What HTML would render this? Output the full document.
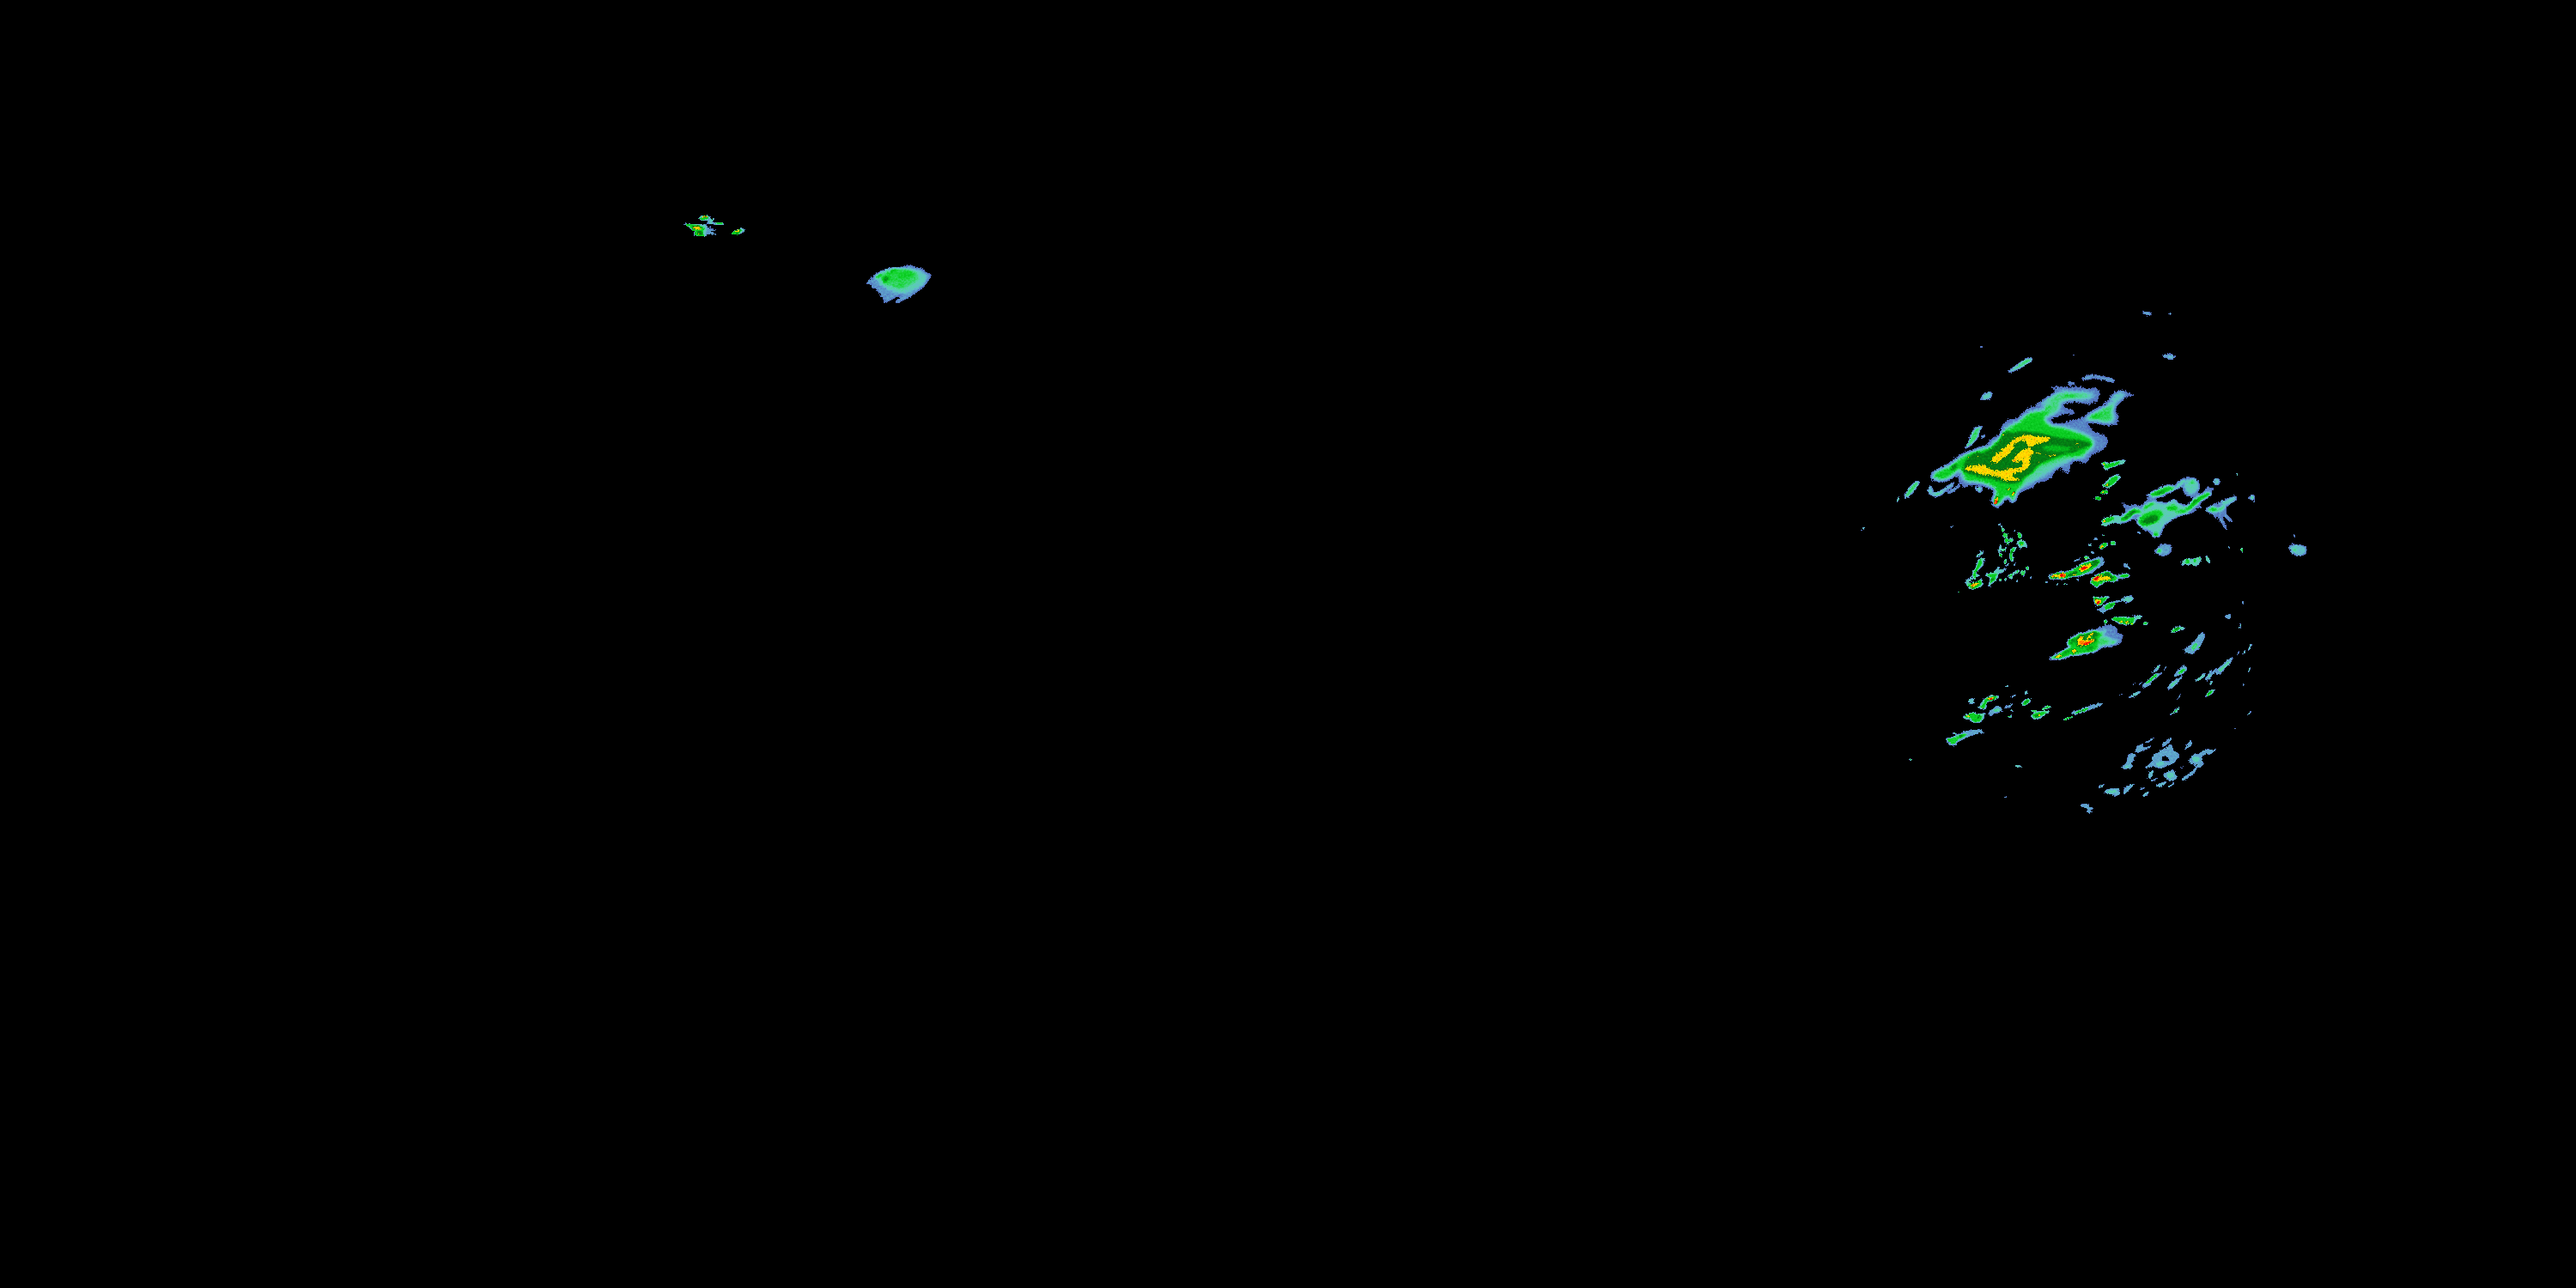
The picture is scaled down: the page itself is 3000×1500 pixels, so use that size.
<!DOCTYPE html>
<html lang="en"><head><meta charset="utf-8"><title>Radar reflectivity mosaic</title>
<style>
html,body{margin:0;padding:0;background:#000;width:3000px;height:1500px;overflow:hidden;font-family:"Liberation Sans",sans-serif;}
svg{display:block;position:absolute;left:0;top:0;}
</style></head><body>
<svg width="3000" height="1500" viewBox="0 0 3000 1500">
<defs>
<filter id="blo" x="0" y="0" width="3000" height="1500" filterUnits="userSpaceOnUse" color-interpolation-filters="sRGB"><feGaussianBlur stdDeviation="2.2"/></filter>
<filter id="bhi" x="0" y="0" width="3000" height="1500" filterUnits="userSpaceOnUse" color-interpolation-filters="sRGB"><feGaussianBlur stdDeviation="1.0"/></filter>
<filter id="bti" x="0" y="0" width="3000" height="1500" filterUnits="userSpaceOnUse" color-interpolation-filters="sRGB"><feGaussianBlur stdDeviation="0.7"/></filter>
<filter id="cmap" x="-20" y="-20" width="3040" height="1540" filterUnits="userSpaceOnUse" color-interpolation-filters="sRGB">
<feTurbulence type="fractalNoise" baseFrequency="0.45" numOctaves="2" seed="7" result="t"/>
<feColorMatrix in="t" type="matrix" values="1 0 0 0 0  1 0 0 0 0  1 0 0 0 0  0 0 0 0 1" result="n"/>
<feDisplacementMap in="SourceGraphic" in2="t" scale="3" xChannelSelector="R" yChannelSelector="G" result="d0"/>
<feColorMatrix in="d0" type="matrix" values="1 0 0 0 0  0 1 0 0 0  0 0 1 0 0  0 0 0 0 1" result="d"/>
<feComposite in="d" in2="n" operator="arithmetic" k1="0" k2="1" k3="0.16" k4="-0.08" result="c"/>
<feComponentTransfer in="c">
<feFuncR type="table" tableValues="0 0 0 0 0 0 0 0 0 0 0 0 0 0 0 0 0 0 0 0 0 0 0.314 0.315 0.316 0.317 0.319 0.32 0.321 0.322 0.323 0.325 0.326 0.327 0.328 0.329 0.332 0.334 0.336 0.339 0.341 0.344 0.346 0.348 0.351 0.353 0.355 0.358 0.36 0.362 0.365 0.366 0.367 0.368 0.369 0.37 0.371 0.372 0.373 0.374 0.375 0.375 0.376 0.377 0.378 0.379 0.38 0.381 0.382 0.383 0.384 0.383 0.381 0.38 0.378 0.376 0.375 0.373 0.372 0.37 0.369 0.367 0.365 0.364 0.362 0.361 0.359 0.358 0.356 0.355 0.353 0.348 0.343 0.338 0.333 0.327 0.322 0.317 0.312 0.307 0.302 0.297 0.292 0.287 0.282 0.276 0.271 0.266 0.261 0.256 0.251 0.242 0.234 0.225 0.216 0.208 0.199 0.191 0.182 0.173 0.165 0.156 0.147 0.139 0.13 0.122 0.113 0.104 0.096 0.087 0.078 0.075 0.071 0.067 0.064 0.06 0.056 0.053 0.049 0.045 0.042 0.038 0.035 0.031 0.027 0.024 0.023 0.023 0.023 0.023 0.023 0.022 0.022 0.022 0.022 0.022 0.021 0.021 0.021 0.021 0.021 0.02 0.02 0.02 0.02 0.02 0.019 0.019 0.019 0.019 0.019 0.018 0.018 0.018 0.018 0.018 0.017 0.017 0.017 0.017 0.017 0.016 0.016 0.016 0.016 0.016 0.015 0.015 0.015 0.014 0.014 0.014 0.013 0.013 0.013 0.012 0.012 0.012 0.261 0.51 0.608 0.706 0.804 0.902 1 1 1 1 1 1 1 1 1 1 1 1 1 1 1 1 1 1 1 1 1 1 1 1 1 1 1 1 1 1 1 1 1 0.998 0.996 0.993 0.991 0.989 0.987 0.985 0.983 0.98 0.963 0.945 0.927 0.91 0.892 0.875 0.857 0.839 0.822 0.804"/>
<feFuncG type="table" tableValues="0 0 0 0 0 0 0 0 0 0 0 0 0 0 0 0 0 0 0 0 0 0 0.408 0.413 0.417 0.422 0.427 0.432 0.437 0.442 0.446 0.451 0.456 0.461 0.466 0.471 0.479 0.487 0.496 0.504 0.512 0.521 0.529 0.538 0.546 0.554 0.563 0.571 0.579 0.588 0.596 0.603 0.609 0.616 0.623 0.629 0.636 0.643 0.649 0.656 0.663 0.669 0.676 0.683 0.689 0.696 0.703 0.709 0.716 0.723 0.729 0.734 0.738 0.742 0.747 0.751 0.755 0.76 0.764 0.768 0.773 0.777 0.781 0.785 0.79 0.794 0.798 0.803 0.807 0.811 0.816 0.817 0.818 0.82 0.821 0.823 0.824 0.825 0.827 0.828 0.829 0.831 0.832 0.834 0.835 0.836 0.838 0.839 0.84 0.842 0.843 0.843 0.842 0.842 0.842 0.841 0.841 0.84 0.84 0.84 0.839 0.839 0.838 0.838 0.838 0.837 0.837 0.836 0.836 0.836 0.835 0.832 0.828 0.825 0.822 0.818 0.815 0.812 0.808 0.805 0.801 0.798 0.795 0.791 0.788 0.784 0.776 0.769 0.761 0.753 0.745 0.737 0.729 0.722 0.714 0.706 0.698 0.69 0.682 0.675 0.667 0.659 0.651 0.643 0.635 0.627 0.62 0.613 0.606 0.599 0.592 0.585 0.578 0.571 0.564 0.557 0.55 0.543 0.536 0.529 0.522 0.515 0.507 0.5 0.493 0.486 0.481 0.476 0.471 0.465 0.46 0.455 0.45 0.444 0.439 0.434 0.429 0.424 0.525 0.627 0.684 0.74 0.797 0.853 0.91 0.9 0.889 0.879 0.869 0.859 0.849 0.838 0.828 0.818 0.808 0.79 0.771 0.753 0.735 0.716 0.698 0.68 0.661 0.643 0.625 0.607 0.588 0.561 0.533 0.506 0.478 0.451 0.424 0.396 0.369 0.341 0.314 0.279 0.244 0.209 0.174 0.139 0.105 0.07 0.035 0 0 0 0 0 0 0 0 0 0 0"/>
<feFuncB type="table" tableValues="0 0 0 0 0 0 0 0 0 0 0 0 0 0 0 0 0 0 0 0 0 0 0.729 0.732 0.734 0.736 0.738 0.74 0.742 0.744 0.746 0.748 0.751 0.753 0.755 0.757 0.759 0.762 0.765 0.767 0.77 0.773 0.775 0.778 0.78 0.783 0.786 0.788 0.791 0.793 0.796 0.796 0.797 0.797 0.798 0.798 0.798 0.799 0.799 0.8 0.8 0.8 0.801 0.801 0.802 0.802 0.802 0.803 0.803 0.804 0.804 0.798 0.793 0.787 0.781 0.775 0.77 0.764 0.758 0.753 0.747 0.741 0.736 0.73 0.724 0.719 0.713 0.707 0.702 0.696 0.69 0.68 0.67 0.66 0.649 0.639 0.629 0.619 0.609 0.598 0.588 0.578 0.568 0.558 0.547 0.537 0.527 0.517 0.507 0.496 0.486 0.471 0.456 0.44 0.425 0.41 0.395 0.379 0.364 0.349 0.333 0.318 0.303 0.287 0.272 0.257 0.242 0.226 0.211 0.196 0.18 0.176 0.171 0.166 0.162 0.157 0.152 0.147 0.143 0.138 0.133 0.129 0.124 0.119 0.115 0.11 0.109 0.108 0.107 0.107 0.106 0.105 0.104 0.104 0.103 0.102 0.101 0.1 0.1 0.099 0.098 0.097 0.096 0.096 0.095 0.094 0.093 0.093 0.092 0.091 0.09 0.089 0.089 0.088 0.087 0.086 0.085 0.085 0.084 0.083 0.082 0.082 0.081 0.08 0.079 0.078 0.078 0.077 0.076 0.076 0.075 0.075 0.074 0.073 0.073 0.072 0.071 0.071 0.055 0.039 0.031 0.024 0.016 0.008 0 0 0 0 0 0 0 0 0 0 0 0 0 0 0 0 0 0 0 0 0 0 0 0 0 0 0 0 0 0 0 0 0 0 0 0 0 0 0 0 0 0 0 0 0 0 0 0 0 0 0 0"/>
<feFuncA type="linear" slope="0" intercept="1"/>
</feComponentTransfer>
</filter>
</defs>
<rect width="3000" height="1500" fill="#000"/>
<g filter="url(#cmap)">
<rect x="-20" y="-20" width="3040" height="1540" fill="#000"/>
<g filter="url(#blo)">
<polygon fill="rgb(42,42,42)" points="2247.5,557.6 2251.0,549.5 2260.3,544.8 2268.4,541.3 2278.9,533.2 2285.9,528.5 2299.9,523.8 2310.4,519.2 2316.2,519.2 2315.0,513.4 2322.0,509.3 2329.0,508.1 2330.2,500.6 2332.5,492.4 2339.5,488.3 2348.8,487.7 2353.4,481.9 2359.3,478.4 2359.3,474.9 2370.9,473.2 2373.2,468.5 2381.4,465.6 2387.2,461.0 2393.0,457.5 2393.0,452.8 2383.7,451.1 2390.7,449.3 2402.4,450.5 2421.0,450.5 2433.8,452.2 2443.1,451.6 2446.6,456.3 2444.3,463.3 2443.1,467.9 2435.0,467.9 2438.5,472.0 2428.0,470.3 2416.3,467.9 2408.2,469.1 2402.4,470.9 2403.5,474.9 2409.3,476.1 2418.7,479.6 2415.2,483.1 2404.7,482.5 2397.7,485.4 2390.7,486.6 2387.2,490.1 2393.0,494.2 2401.2,493.0 2411.7,489.5 2425.6,486.6 2435.0,479.6 2444.3,474.9 2451.3,470.3 2458.3,462.1 2462.9,457.5 2469.9,453.4 2478.0,456.3 2487.4,459.8 2486.2,461.5 2475.7,462.1 2472.2,466.8 2466.4,470.3 2462.9,478.4 2467.6,483.1 2466.4,491.2 2467.6,494.7 2458.3,495.9 2448.9,494.7 2439.6,492.4 2430.3,492.4 2432.6,497.1 2437.3,500.6 2439.6,503.5 2447.8,505.2 2453.6,508.7 2455.9,514.5 2452.4,521.5 2446.6,526.2 2438.5,528.5 2433.8,533.2 2430.3,539.0 2426.8,540.7 2421.0,536.7 2415.2,536.7 2411.7,541.3 2410.5,550.6 2405.8,552.4 2402.4,546.0 2397.7,545.4 2391.9,549.5 2390.7,556.5 2381.4,559.9 2372.1,562.3 2368.6,566.9 2358.1,571.6 2349.9,575.1 2347.6,582.1 2345.3,586.7 2341.8,585.6 2339.5,579.7 2334.8,580.9 2330.2,586.7 2327.8,590.0 2322.0,590.0 2319.7,584.4 2320.8,577.4 2323.2,571.6 2318.5,568.1 2311.5,566.9 2309.2,565.2 2299.9,564.6 2292.9,565.8 2287.1,569.3 2284.7,564.6 2280.1,561.1 2281.2,554.1 2276.6,555.3 2268.4,559.9 2260.3,561.1 2253.3,559.9"/>
<polygon fill="rgb(140,140,140)" points="2249.8,554.1 2254.5,549.5 2262.6,546.0 2270.8,542.5 2281.2,534.3 2288.2,529.7 2301.0,525.0 2311.5,521.5 2318.5,520.4 2323.2,514.5 2329.0,509.9 2331.3,505.2 2334.8,500.6 2341.8,495.9 2351.1,491.2 2355.8,486.6 2361.6,481.9 2367.4,479.6 2376.7,478.4 2386.0,477.3 2390.7,472.6 2388.4,467.9 2381.4,469.1 2376.7,471.4 2380.2,467.4 2389.5,462.1 2395.4,458.6 2404.7,456.3 2416.3,457.5 2428.0,457.5 2438.5,459.8 2432.6,463.3 2421.0,465.0 2409.3,465.0 2398.9,467.9 2398.9,473.8 2395.4,479.6 2388.4,483.1 2380.2,486.6 2382.6,491.2 2389.5,495.9 2400.0,497.1 2411.7,500.6 2425.6,505.2 2435.0,509.9 2438.5,515.7 2436.1,521.5 2430.3,526.2 2425.6,532.0 2417.5,533.2 2409.3,534.3 2402.4,536.7 2396.5,539.0 2387.2,540.2 2380.2,544.8 2373.2,549.5 2369.7,555.3 2365.1,561.1 2356.9,565.8 2351.1,569.3 2347.6,575.1 2346.5,582.1 2343.0,584.4 2340.6,577.4 2334.8,578.6 2331.3,584.4 2326.7,589.1 2322.0,587.9 2322.0,579.7 2325.5,572.8 2320.8,566.9 2311.5,563.4 2302.2,561.1 2292.9,561.1 2287.1,557.6 2284.7,550.6 2282.4,546.0 2276.6,550.6 2271.9,555.3 2263.8,558.8 2255.6,558.8"/>
<polygon fill="rgb(140,140,140)" points="2428.0,488.9 2435.0,483.1 2445.4,477.3 2453.6,473.8 2459.4,469.1 2461.7,473.8 2459.4,480.8 2461.7,486.6 2458.3,491.2 2448.9,491.2 2439.6,488.9"/>
<polygon fill="rgb(85,85,85)" points="2458.3,463.3 2462.9,458.6 2471.1,456.3 2474.6,459.8 2467.6,466.8 2461.7,472.6"/>
<polygon fill="rgb(93,93,93)" points="2367.8,549.4 2374.8,543.1 2385.3,538.9 2395.8,534.7 2406.3,531.9 2413.2,533.3 2406.3,538.9 2395.8,543.1 2388.8,548.0 2381.8,552.9 2374.8,557.1 2367.8,561.3 2360.8,564.1 2353.9,565.5 2357.3,558.5"/>
<polygon fill="rgb(110,110,110)" points="2380.2,467.4 2389.5,462.1 2395.4,458.6 2404.7,456.3 2416.3,457.5 2428.0,457.5 2438.5,459.8 2432.6,463.3 2421.0,465.0 2409.3,465.0 2398.9,467.9 2398.9,473.8 2395.4,479.6 2388.4,483.1 2381.4,478.4 2386.0,477.3 2390.7,472.6 2388.4,467.9 2381.4,469.1"/>
<ellipse fill="rgb(140,140,140)" cx="2411.7" cy="461.0" rx="8.2" ry="1.9" transform="rotate(-5 2411.7 461.0)"/>
<ellipse fill="rgb(140,140,140)" cx="2384.9" cy="473.8" rx="4.7" ry="2.6" transform="rotate(-30 2384.9 473.8)"/>
<polygon fill="rgb(120,120,120)" points="2428.0,488.9 2435.0,483.1 2445.4,477.3 2453.6,473.8 2459.4,469.1 2461.7,473.8 2459.4,480.8 2461.7,486.6 2458.3,491.2 2448.9,491.2 2439.6,488.9"/>
<ellipse fill="rgb(145,145,145)" cx="2439.6" cy="485.2" rx="6.4" ry="2.6" transform="rotate(-20 2439.6 485.2)"/>
</g>
<g filter="url(#bhi)">
<polygon fill="rgb(185,185,185)" points="2286.1,543.1 2288.2,537.5 2293.1,531.9 2298.0,527.7 2303.5,526.3 2309.1,527.7 2314.7,524.9 2320.3,520.7 2325.9,516.6 2330.1,511.0 2331.5,504.7 2337.1,502.6 2344.1,504.0 2351.1,502.6 2358.0,501.9 2366.4,503.3 2374.8,504.0 2383.2,506.1 2391.6,508.2 2400.0,510.3 2408.4,511.0 2416.7,511.7 2425.1,513.1 2433.5,515.2 2436.3,518.0 2430.7,520.7 2423.7,522.8 2416.7,526.3 2409.8,527.7 2402.8,529.1 2395.8,531.9 2388.8,534.7 2381.8,537.5 2376.2,540.3 2370.6,544.5 2367.8,549.4 2362.2,552.9 2356.6,556.4 2353.9,560.6 2348.3,562.7 2339.9,563.4 2332.9,562.0 2325.9,559.9 2318.9,557.8 2311.9,557.1 2304.9,555.7 2298.0,552.9 2291.0,551.5 2286.8,548.7"/>
<polygon fill="rgb(153,153,153)" points="2379.0,520.0 2388.8,518.0 2399.3,519.3 2409.8,520.7 2413.2,523.5 2406.3,525.6 2395.8,526.3 2385.3,524.9 2379.0,522.8"/>
<polygon fill="rgb(185,185,185)" points="2271.4,545.9 2274.2,541.7 2278.4,540.3 2279.8,543.1 2277.0,546.6 2273.5,548.0"/>
<polygon fill="rgb(210,210,210)" points="2318.9,535.4 2323.1,530.5 2328.0,526.3 2332.9,522.8 2337.1,519.3 2340.6,515.2 2345.5,511.0 2352.5,508.2 2359.4,505.7 2366.4,506.8 2372.0,508.5 2379.0,508.9 2387.4,508.5 2388.8,511.7 2383.2,514.5 2376.2,516.6 2369.9,518.6 2364.3,521.4 2360.8,519.3 2360.1,515.2 2355.9,513.1 2350.4,514.5 2345.5,517.3 2345.5,521.4 2342.7,524.9 2339.9,529.1 2335.7,531.9 2331.5,534.7 2327.3,538.2 2323.8,540.3 2320.3,538.9"/>
<polygon fill="rgb(210,210,210)" points="2344.1,534.7 2346.9,531.9 2349.7,527.7 2353.9,524.9 2358.0,522.8 2362.2,520.7 2367.8,524.9 2370.6,526.3 2367.8,529.1 2364.3,531.9 2364.3,537.5 2363.6,542.4 2360.1,545.9 2355.9,548.7 2351.1,550.8 2346.9,549.4 2349.7,545.9 2353.9,543.1 2355.9,538.9 2353.9,536.1 2349.0,538.2 2344.8,538.9"/>
<polygon fill="rgb(210,210,210)" points="2287.5,545.2 2292.4,543.1 2299.3,542.4 2306.3,541.0 2313.3,541.7 2316.1,545.2 2323.1,548.0 2330.1,548.0 2337.1,545.9 2344.1,544.5 2348.3,545.2 2351.1,548.0 2346.9,551.5 2342.7,554.3 2346.9,557.1 2352.5,557.1 2353.9,559.2 2346.9,560.6 2339.9,559.9 2334.3,559.2 2330.1,557.1 2325.9,555.7 2320.3,554.3 2314.7,552.9 2309.1,552.9 2303.5,551.5 2299.3,549.4 2293.8,548.7 2288.9,548.0"/>
<polygon fill="rgb(50,50,50)" points="1008.9,329.9 1012.8,324.8 1021.7,317.9 1032.2,313.0 1036.5,311.3 1043.9,311.3 1048.1,311.6 1058.2,309.1 1062.5,309.1 1066.0,311.6 1068.3,311.1 1072.2,312.0 1077.3,315.5 1081.1,319.4 1083.9,318.1 1084.0,323.3 1080.7,327.2 1077.6,332.4 1069.9,338.6 1062.1,344.8 1054.3,349.5 1048.1,351.0 1046.6,353.0 1042.3,353.0 1041.9,351.4 1051.6,341.7 1041.9,347.2 1034.9,351.0 1030.7,353.0 1028.0,349.5 1029.9,347.2 1025.6,344.8 1020.2,336.3 1016.3,335.9 1014.0,332.4 1016.3,330.5 1010.1,331.6"/>
<polygon fill="rgb(85,85,85)" points="1018.6,324.1 1023.3,318.6 1033.0,313.6 1044.6,312.0 1058.2,312.8 1071.8,315.5 1079.6,321.7 1075.7,331.1 1066.0,336.9 1054.3,341.9 1042.7,340.8 1033.0,336.9 1025.2,331.1"/>
<polygon fill="rgb(115,115,115)" points="1024.8,323.3 1031.1,316.3 1042.7,313.2 1058.2,313.6 1067.9,317.5 1069.9,325.2 1062.1,331.1 1050.5,336.9 1040.8,334.9 1031.1,331.1"/>
<polygon fill="rgb(125,125,125)" points="1027.2,324.8 1034.9,317.5 1041.9,313.2 1058.2,314.4 1066.0,318.6 1062.1,324.8 1048.5,328.0 1038.8,327.2 1028.7,330.7"/>
<polygon fill="rgb(142,142,142)" points="1026.4,325.6 1029.5,321.7 1034.9,320.2 1037.3,323.3 1034.9,327.2 1029.5,330.7"/>
<polygon fill="rgb(140,140,140)" points="1034.9,317.5 1038.8,313.6 1044.6,312.8 1045.8,314.4 1041.1,316.7 1037.3,319.4"/>
<polygon fill="rgb(134,134,134)" points="1046.6,320.2 1054.3,315.5 1060.6,315.5 1065.2,318.6 1060.6,323.3 1053.6,324.8 1048.5,324.8"/>
<polygon fill="rgb(140,140,140)" points="1019.0,323.3 1025.2,318.2 1028.0,319.4 1021.7,324.1"/>
<polygon fill="rgb(123,123,123)" points="1040.8,332.2 1048.5,328.0 1056.3,328.7 1050.5,334.9 1042.7,334.9"/>
<polygon fill="rgb(180,180,180)" points="1028.3,324.8 1033.0,322.1 1034.9,324.8 1031.1,328.3"/>
<polygon fill="rgb(170,170,170)" points="1037.3,316.3 1041.1,313.2 1042.3,314.0 1038.4,317.1"/>
<polygon fill="rgb(170,170,170)" points="1022.5,322.1 1026.4,319.0 1027.6,319.8 1023.7,322.9"/>
<polygon fill="rgb(115,115,115)" points="2337.4,433.7 2346.7,427.3 2354.9,420.9 2360.7,417.4 2367.1,417.4 2365.4,420.5 2358.4,424.9 2350.2,429.6 2340.9,433.3"/>
<polygon fill="rgb(85,85,85)" points="2307.1,463.4 2310.6,458.7 2318.2,456.1 2319.9,459.9 2317.6,463.9 2311.8,465.7 2308.3,465.5"/>
<polygon fill="rgb(115,115,115)" points="2287.9,522.2 2293.2,513.4 2296.7,504.1 2301.3,498.3 2309.5,496.0 2304.8,501.8 2303.6,508.8 2299.0,514.6 2293.2,519.8"/>
<polygon fill="rgb(85,85,85)" points="2306.2,510.5 2308.3,507.6 2311.8,506.2 2311.2,508.8 2308.3,510.5"/>
<polygon fill="rgb(54,54,54)" points="2422.4,441.2 2430.6,437.2 2437.6,436.0 2446.9,438.3 2458.5,440.1 2463.2,442.4 2462.0,445.7 2453.9,444.2 2444.6,441.2 2437.6,440.1 2432.9,442.4 2427.1,442.6"/>
<polygon fill="rgb(52,52,52)" points="2406.1,447.6 2409.6,444.2 2416.6,445.3 2417.2,447.6 2409.6,448.0"/>
<ellipse fill="rgb(85,85,85)" cx="2307.4" cy="403.7" rx="2.6" ry="0.7" transform="rotate(-10 2307.4 403.7)"/>
<ellipse fill="rgb(52,52,52)" cx="2415.4" cy="413.4" rx="2.3" ry="0.6" transform="rotate(0 2415.4 413.4)"/>
<polygon fill="rgb(85,85,85)" points="2494.8,363.3 2501.2,363.3 2505.0,364.2 2505.0,366.8 2500.1,366.2 2496.0,364.7"/>
<ellipse fill="rgb(85,85,85)" cx="2527.1" cy="365.3" rx="1.0" ry="0.7" transform="rotate(0 2527.1 365.3)"/>
<polygon fill="rgb(75,75,75)" points="2521.0,412.2 2524.5,413.9 2527.4,412.2 2530.4,413.9 2535.0,415.1 2531.5,416.3 2529.8,419.0 2525.7,418.0 2522.8,415.7 2518.7,417.4 2519.9,415.1"/>
<polygon fill="rgb(42,42,42)" points="2499.8,577.3 2503.5,574.8 2507.2,571.7 2512.2,569.5 2515.9,566.7 2520.9,565.5 2525.8,564.3 2533.3,564.9 2535.8,561.8 2538.3,558.7 2542.6,557.1 2547.0,555.6 2551.3,556.5 2555.7,556.2 2558.8,558.7 2561.2,562.4 2562.5,566.1 2561.9,569.8 2559.4,572.3 2560.6,575.4 2556.9,578.5 2553.2,580.4 2550.7,577.3 2547.0,578.5 2544.5,576.1 2542.6,572.3 2541.4,568.6 2540.1,566.1 2537.0,568.0 2533.3,569.8 2529.6,572.3 2525.8,574.2 2522.1,576.1 2523.4,578.5 2519.6,577.9 2515.9,578.5 2512.2,580.4 2509.7,582.3 2511.6,585.4 2508.4,587.9 2503.5,589.7 2500.4,588.5 2497.3,584.8 2501.0,582.3 2500.4,579.8"/>
<polygon fill="rgb(42,42,42)" points="2542.6,591.0 2547.0,588.5 2550.1,586.0 2553.2,582.3 2556.9,578.5 2560.6,576.1 2564.3,574.2 2566.8,571.1 2569.3,568.6 2571.2,566.1 2573.7,568.6 2578.0,567.4 2579.3,569.2 2575.5,572.3 2576.1,576.7 2573.0,578.5 2568.1,581.0 2564.3,583.5 2561.9,585.4 2562.5,588.5 2565.6,591.0 2561.9,592.2 2558.1,591.0 2553.2,594.1 2547.0,596.6 2543.2,594.7"/>
<polygon fill="rgb(42,42,42)" points="2471.2,585.4 2474.3,586.0 2477.4,588.5 2481.7,588.5 2486.1,586.6 2489.8,588.5 2494.8,587.9 2497.3,584.8 2501.0,582.3 2507.2,581.6 2510.9,582.3 2511.6,585.4 2514.7,584.8 2518.4,583.5 2520.9,586.0 2525.2,584.8 2528.3,582.3 2531.4,580.4 2534.5,582.9 2537.6,585.4 2540.7,587.2 2543.9,587.9 2547.0,588.5 2553.2,594.1 2559.4,594.1 2565.6,595.3 2568.7,594.1 2571.2,591.0 2574.9,588.5 2578.0,587.2 2581.1,586.0 2585.5,584.1 2590.4,582.3 2596.6,579.8 2602.2,577.3 2605.3,580.4 2604.7,582.9 2599.8,585.4 2595.4,587.9 2592.9,591.0 2592.3,594.7 2593.5,598.4 2596.6,602.8 2600.4,607.7 2600.4,609.6 2596.6,606.5 2591.7,602.1 2588.0,599.7 2589.2,604.0 2592.3,612.1 2594.8,618.3 2594.2,619.5 2590.4,613.9 2586.7,607.7 2583.6,604.0 2581.7,600.9 2580.5,602.1 2581.7,607.1 2578.0,600.9 2574.9,597.8 2570.6,595.9 2565.6,595.3 2560.6,594.7 2556.9,595.9 2551.9,597.8 2547.0,599.0 2542.0,599.7 2537.6,601.5 2533.3,604.0 2528.3,607.1 2524.6,609.6 2520.9,612.1 2519.0,616.4 2517.8,620.8 2515.9,625.1 2506.0,625.1 2503.5,619.5 2498.5,618.9 2494.8,615.8 2491.7,612.7 2487.3,609.6 2488.6,607.1 2484.8,604.0 2483.6,605.2 2480.5,607.1 2474.9,609.0 2469.9,609.6 2465.0,608.4 2460.0,607.1 2457.5,604.6 2460.0,600.9 2463.7,600.9 2468.7,600.9 2472.4,598.4 2475.5,595.9 2474.3,591.6 2472.4,588.5"/>
<polygon fill="rgb(85,85,85)" points="2497.3,588.5 2503.5,585.4 2509.7,583.5 2515.9,586.0 2522.1,587.2 2528.3,583.5 2532.0,581.6 2537.0,586.0 2542.0,588.5 2547.0,589.7 2551.9,594.7 2547.0,597.8 2540.7,599.0 2534.5,601.5 2528.3,605.2 2522.1,609.6 2519.0,613.3 2515.9,619.5 2508.4,620.8 2503.5,616.4 2497.3,615.2 2492.3,611.5 2489.8,607.1 2492.3,600.9 2494.8,594.7"/>
<polygon fill="rgb(85,85,85)" points="2585.5,585.4 2591.7,582.3 2597.9,579.8 2602.2,577.9 2604.7,580.7 2599.1,584.8 2594.2,587.9 2589.2,589.1"/>
<polygon fill="rgb(85,85,85)" points="2545.7,560.5 2549.4,557.4 2555.7,557.4 2559.4,561.1 2560.6,566.1 2559.4,570.5 2555.7,573.6 2551.9,576.1 2548.2,574.8 2545.7,571.1 2543.9,566.1"/>
<polygon fill="rgb(95,95,95)" points="2533.3,568.6 2536.4,563.6 2540.1,559.9 2544.5,558.0 2545.7,560.5 2542.0,563.6 2538.9,566.7 2535.8,569.8"/>
<polygon fill="rgb(115,115,115)" points="2569.3,593.4 2573.0,591.0 2578.0,590.3 2581.7,592.2 2585.5,591.0 2590.4,588.5 2591.7,591.0 2588.0,594.1 2583.0,595.9 2578.0,596.6 2573.0,595.9"/>
<polygon fill="rgb(85,85,85)" points="2589.8,599.7 2592.3,600.9 2596.6,604.6 2600.1,609.0 2596.6,605.9 2592.3,602.8"/>
<polygon fill="rgb(85,85,85)" points="2583.6,603.4 2586.1,604.6 2589.2,610.2 2592.9,616.4 2590.4,613.3 2586.7,607.7"/>
<polygon fill="rgb(140,140,140)" points="2504.1,576.1 2507.2,573.0 2512.2,571.1 2517.1,568.6 2522.1,566.7 2527.1,566.1 2532.0,568.0 2533.3,569.8 2528.3,571.7 2523.4,573.6 2518.4,575.4 2513.4,577.3 2508.4,578.5 2504.7,577.9"/>
<polygon fill="rgb(177,177,177)" points="2509.7,575.4 2515.9,572.3 2522.1,571.7 2519.6,575.1 2514.7,577.0"/>
<polygon fill="rgb(144,144,144)" points="2545.7,591.0 2549.4,587.9 2552.5,584.1 2556.3,580.7 2561.9,577.6 2566.8,575.1 2571.8,573.3 2574.9,574.5 2572.4,577.9 2567.5,580.7 2562.5,583.8 2558.8,586.9 2555.0,590.7 2550.7,593.8 2546.3,594.7"/>
<polygon fill="rgb(185,185,185)" points="2552.5,585.4 2555.7,582.3 2559.4,580.4 2560.6,581.6 2557.5,584.1 2554.4,587.2"/>
<polygon fill="rgb(140,140,140)" points="2465.0,604.6 2469.9,602.8 2474.3,599.7 2478.6,595.9 2483.6,592.8 2487.3,592.2 2492.3,593.4 2494.8,596.6 2491.1,598.4 2487.3,597.8 2484.2,599.7 2480.5,603.4 2476.1,606.5 2471.2,607.7 2466.2,607.1"/>
<polygon fill="rgb(185,185,185)" points="2472.4,604.0 2477.4,599.7 2483.0,594.7 2486.7,594.1 2488.0,596.6 2483.6,599.0 2479.3,602.8 2474.9,605.9"/>
<ellipse fill="rgb(210,210,210)" cx="2484.2" cy="596.6" rx="1.1" ry="0.6" transform="rotate(-40 2484.2 596.6)"/>
<ellipse fill="rgb(210,210,210)" cx="2488.7" cy="596.7" rx="0.6" ry="0.5" transform="rotate(0 2488.7 596.7)"/>
<polygon fill="rgb(140,140,140)" points="2494.8,592.2 2498.5,588.5 2503.5,586.0 2507.2,584.8 2509.1,586.6 2505.3,589.1 2501.0,591.6 2497.3,593.4"/>
<polygon fill="rgb(140,140,140)" points="2489.2,607.1 2492.3,602.1 2497.3,598.4 2503.5,595.9 2509.7,594.1 2514.7,594.1 2518.4,596.6 2519.6,599.7 2515.9,603.4 2514.0,607.1 2509.7,609.6 2503.5,611.5 2498.5,613.3 2494.8,612.7 2491.1,610.2"/>
<polygon fill="rgb(185,185,185)" points="2494.8,607.1 2498.5,603.4 2503.5,600.9 2508.4,599.7 2512.8,600.9 2513.4,604.6 2509.7,607.7 2504.7,609.6 2499.8,610.8 2496.0,610.2"/>
<ellipse fill="rgb(210,210,210)" cx="2497.4" cy="605.6" rx="1.0" ry="0.7" transform="rotate(40 2497.4 605.6)"/>
<ellipse fill="rgb(202,202,202)" cx="2495.1" cy="608.2" rx="0.6" ry="0.6" transform="rotate(0 2495.1 608.2)"/>
<polygon fill="rgb(140,140,140)" points="2522.1,591.6 2528.3,587.9 2534.5,589.1 2537.0,592.2 2533.3,595.3 2528.3,594.7 2524.0,594.1"/>
<polygon fill="rgb(134,134,134)" points="2534.5,595.3 2540.7,592.8 2548.2,594.1 2544.5,597.8 2537.6,598.4"/>
<ellipse fill="rgb(144,144,144)" cx="2578.0" cy="593.0" rx="2.8" ry="2.1" transform="rotate(0 2578.0 593.0)"/>
<ellipse fill="rgb(125,125,125)" cx="2553.2" cy="561.9" rx="2.5" ry="2.1" transform="rotate(0 2553.2 561.9)"/>
<polygon fill="rgb(140,140,140)" points="2507.2,621.4 2509.7,619.5 2513.4,620.2 2514.7,623.3 2512.8,625.1 2508.4,625.1"/>
<ellipse fill="rgb(85,85,85)" cx="2581.4" cy="560.8" rx="3.1" ry="3.6" transform="rotate(0 2581.4 560.8)"/>
<ellipse fill="rgb(54,54,54)" cx="2491.4" cy="620.5" rx="2.2" ry="1.0" transform="rotate(30 2491.4 620.5)"/>
<ellipse fill="rgb(85,85,85)" cx="2581.5" cy="560.7" rx="3.3" ry="3.5" transform="rotate(0 2581.5 560.7)"/>
<ellipse fill="rgb(95,95,95)" cx="2622.8" cy="579.4" rx="2.6" ry="2.8" transform="rotate(0 2622.8 579.4)"/>
<polygon fill="rgb(56,56,56)" points="2509.9,643.6 2512.2,639.0 2516.9,634.3 2521.5,633.2 2528.5,634.9 2529.7,639.0 2527.3,643.6 2523.8,646.6 2519.2,647.7 2514.5,646.6"/>
<ellipse fill="rgb(125,125,125)" cx="2514.5" cy="641.3" rx="2.9" ry="2.9" transform="rotate(0 2514.5 641.3)"/>
<polygon fill="rgb(73,73,73)" points="2665.9,636.7 2670.6,633.7 2677.6,634.3 2685.7,637.2 2685.7,644.8 2682.2,646.6 2676.4,647.7 2670.6,644.8 2667.1,641.3"/>
<ellipse fill="rgb(115,115,115)" cx="2672.3" cy="640.4" rx="2.3" ry="1.9" transform="rotate(0 2672.3 640.4)"/>
<polygon fill="rgb(115,115,115)" points="2217.5,579.9 2222.2,569.4 2230.4,561.3 2235.0,560.1 2233.9,564.8 2226.9,574.1 2221.0,579.4"/>
<polygon fill="rgb(42,42,42)" points="2386.3,767.6 2389.6,764.8 2394.2,762.0 2398.9,759.7 2403.5,756.9 2407.3,754.6 2411.0,753.2 2408.2,752.3 2406.8,749.5 2407.3,747.1 2409.1,744.8 2412.9,742.5 2414.2,740.6 2417.5,740.2 2420.3,737.8 2423.6,736.9 2428.2,736.0 2431.9,734.6 2435.2,733.2 2438.9,732.7 2442.7,731.3 2446.4,729.9 2450.1,728.5 2453.8,728.0 2457.1,727.1 2460.4,728.5 2463.2,729.0 2465.5,731.3 2465.9,734.6 2465.0,736.9 2467.8,737.8 2472.0,738.3 2472.9,740.6 2471.5,742.9 2470.1,744.8 2472.0,746.7 2469.2,749.5 2465.9,750.9 2462.2,751.8 2458.5,753.7 2453.8,754.6 2450.1,753.7 2446.9,756.0 2443.6,757.4 2442.7,758.8 2438.9,759.7 2435.2,760.6 2431.5,761.6 2428.2,761.1 2425.0,762.0 2422.2,763.4 2418.9,763.4 2415.6,763.9 2412.9,763.4 2409.6,764.4 2407.3,766.2 2403.5,766.7 2399.8,768.6 2397.0,768.6 2394.2,767.6 2391.4,767.6 2388.6,768.8"/>
<polygon fill="rgb(85,85,85)" points="2439.9,738.3 2444.5,736.0 2449.2,733.6 2453.8,732.7 2452.0,736.4 2449.2,739.2 2453.8,741.1 2458.5,742.9 2463.2,744.8 2466.9,745.7 2463.2,749.5 2458.5,751.3 2453.8,752.3 2449.2,752.3 2444.5,754.6 2439.9,756.9 2435.2,756.9 2435.2,747.6"/>
<polygon fill="rgb(140,140,140)" points="2387.2,767.4 2390.5,764.8 2395.2,762.0 2399.8,759.7 2404.5,756.9 2408.2,755.1 2411.9,753.7 2409.1,751.8 2407.7,749.0 2408.7,746.2 2411.0,744.3 2414.2,742.5 2417.5,741.1 2420.8,738.3 2423.6,737.4 2426.8,738.3 2430.5,736.9 2435.2,735.5 2439.9,734.6 2443.6,735.5 2446.4,737.4 2449.2,739.2 2446.4,741.1 2443.6,743.9 2444.5,747.6 2442.7,751.3 2444.5,754.6 2441.7,756.9 2438.0,758.8 2434.3,759.7 2430.5,760.6 2426.8,760.6 2423.6,761.6 2420.3,762.5 2416.6,763.0 2412.9,762.5 2409.6,763.4 2406.3,765.3 2402.6,766.2 2398.9,768.1 2395.2,767.2 2391.4,767.2"/>
<polygon fill="rgb(115,115,115)" points="2442.7,744.8 2449.2,742.9 2453.8,743.9 2456.6,746.7 2453.8,749.5 2449.2,750.9 2444.5,751.3"/>
<ellipse fill="rgb(140,140,140)" cx="2461.1" cy="748.3" rx="1.9" ry="1.2" transform="rotate(-30 2461.1 748.3)"/>
<polygon fill="rgb(185,185,185)" points="2421.2,741.1 2425.9,739.2 2430.5,738.3 2435.2,736.4 2439.9,735.5 2443.6,736.9 2444.5,739.2 2441.7,741.1 2438.9,742.5 2435.2,741.1 2431.5,741.1 2428.2,742.9 2425.0,742.9"/>
<polygon fill="rgb(175,175,175)" points="2409.6,747.6 2411.9,744.8 2415.6,743.4 2418.4,744.8 2416.6,747.6 2413.8,749.5 2411.0,750.4"/>
<polygon fill="rgb(165,165,165)" points="2430.5,753.7 2435.2,752.3 2438.9,753.2 2437.1,756.0 2433.3,757.9 2429.6,756.9"/>
<polygon fill="rgb(175,175,175)" points="2402.6,759.7 2407.3,756.9 2411.0,756.0 2410.1,758.8 2406.3,761.6 2402.6,762.5"/>
<polygon fill="rgb(210,210,210)" points="2418.9,743.9 2421.2,741.1 2425.0,739.2 2427.3,741.1 2425.9,743.9 2429.6,744.8 2432.4,742.9 2435.2,743.9 2438.9,743.9 2441.3,742.9 2441.7,745.3 2438.9,747.6 2435.2,749.5 2431.5,751.3 2428.2,752.3 2425.0,753.7 2421.2,753.2 2418.4,751.3 2418.0,748.5 2419.4,746.7"/>
<polygon fill="rgb(75,75,75)" points="2244.0,570.4 2248.6,565.2 2251.0,569.3 2251.0,573.9 2256.8,572.8 2263.8,569.3 2271.9,563.4 2276.6,561.1 2273.1,566.9 2264.9,572.8 2259.1,577.4 2253.3,578.6 2247.5,576.3"/>
<polygon fill="rgb(115,115,115)" points="2252.1,575.1 2257.9,573.9 2263.8,570.4 2261.4,573.9 2255.6,577.2"/>
<polygon fill="rgb(57,57,57)" points="2267.3,573.9 2271.9,570.4 2282.4,563.4 2282.4,566.9 2276.6,571.6 2269.6,575.7"/>
<polygon fill="rgb(85,85,85)" points="2299.9,568.1 2305.7,566.4 2309.2,569.3 2305.7,573.9 2302.2,571.6"/>
</g>
<g filter="url(#bti)">
<ellipse fill="rgb(210,210,210)" cx="2292.4" cy="532.6" rx="1.5" ry="0.6" transform="rotate(-15 2292.4 532.6)"/>
<ellipse fill="rgb(204,204,204)" cx="2304.6" cy="531.2" rx="2.0" ry="0.4" transform="rotate(-10 2304.6 531.2)"/>
<ellipse fill="rgb(210,210,210)" cx="2332.9" cy="506.6" rx="1.5" ry="0.5" transform="rotate(0 2332.9 506.6)"/>
<polygon fill="rgb(202,202,202)" points="2384.6,529.8 2390.2,530.2 2394.0,529.5 2393.7,531.2 2388.8,531.9 2384.6,531.2"/>
<ellipse fill="rgb(210,210,210)" cx="2392.8" cy="530.2" rx="1.0" ry="0.8" transform="rotate(0 2392.8 530.2)"/>
<ellipse fill="rgb(202,202,202)" cx="2418.5" cy="516.6" rx="2.8" ry="0.8" transform="rotate(-15 2418.5 516.6)"/>
<ellipse fill="rgb(202,202,202)" cx="2413.6" cy="526.0" rx="1.5" ry="0.6" transform="rotate(0 2413.6 526.0)"/>
<ellipse fill="rgb(202,202,202)" cx="2374.1" cy="538.1" rx="1.7" ry="0.6" transform="rotate(0 2374.1 538.1)"/>
<polygon fill="rgb(204,204,204)" points="2370.6,526.3 2374.8,526.7 2379.0,528.1 2376.2,529.1 2371.3,528.1"/>
<ellipse fill="rgb(230,230,230)" cx="2345.8" cy="536.5" rx="1.5" ry="1.0" transform="rotate(-30 2345.8 536.5)"/>
<ellipse fill="rgb(214,214,214)" cx="2339.9" cy="569.7" rx="2.7" ry="1.0" transform="rotate(-25 2339.9 569.7)"/>
<ellipse fill="rgb(214,214,214)" cx="2344.8" cy="574.4" rx="2.8" ry="1.1" transform="rotate(-45 2344.8 574.4)"/>
<ellipse fill="rgb(234,234,234)" cx="2346.2" cy="573.5" rx="0.9" ry="0.8" transform="rotate(0 2346.2 573.5)"/>
<ellipse fill="rgb(214,214,214)" cx="2326.9" cy="579.1" rx="2.0" ry="0.8" transform="rotate(0 2326.9 579.1)"/>
<ellipse fill="rgb(214,214,214)" cx="2324.6" cy="583.5" rx="2.3" ry="4.4" transform="rotate(15 2324.6 583.5)"/>
<ellipse fill="rgb(230,230,230)" cx="2324.6" cy="583.8" rx="1.6" ry="3.3" transform="rotate(15 2324.6 583.8)"/>
<ellipse fill="rgb(247,247,247)" cx="2324.8" cy="584.8" rx="0.9" ry="1.9" transform="rotate(15 2324.8 584.8)"/>
<polygon fill="rgb(57,57,57)" points="813.0,254.4 816.1,251.3 820.8,250.8 826.0,251.8 828.1,253.0 828.1,254.9 832.0,255.2 830.1,256.9 830.1,258.4 834.3,258.9 842.1,258.9 844.1,261.3 832.4,261.8 829.7,260.8 823.1,260.7 824.3,257.1 817.3,257.1 814.9,255.5"/>
<polygon fill="rgb(140,140,140)" points="814.9,254.4 817.3,252.8 825.8,252.2 824.3,255.5 817.3,256.7"/>
<polygon fill="rgb(140,140,140)" points="834.0,259.2 841.7,259.2 841.7,261.5 834.3,261.5"/>
<polygon fill="rgb(115,115,115)" points="826.2,255.3 831.6,255.3 829.7,256.7 826.2,256.7"/>
<polygon fill="rgb(85,85,85)" points="826.2,257.1 830.1,257.1 830.1,260.6 826.2,260.6"/>
<polygon fill="rgb(230,230,230)" points="818.0,252.0 820.8,251.1 823.9,252.1 823.5,253.1 818.2,253.1"/>
<polygon fill="rgb(247,247,247)" points="819.4,252.0 822.1,252.0 822.1,253.0 819.4,253.0"/>
<polygon fill="rgb(52,52,52)" points="795.9,261.3 800.2,260.0 803.7,260.2 804.1,261.0 813.8,261.0 820.8,261.0 824.3,263.3 824.6,264.3 828.1,264.3 828.1,264.8 825.4,265.2 825.4,266.4 832.0,266.4 832.0,267.0 830.1,267.2 830.1,268.1 834.0,268.3 834.0,268.9 828.1,269.1 828.1,270.1 832.0,270.3 832.0,272.0 834.0,272.2 834.0,273.0 823.1,273.0 823.1,274.9 811.8,274.9 811.8,273.8 808.0,273.8 808.0,270.3 809.9,269.1 806.0,268.9 804.1,268.0 804.1,265.6 802.1,265.6 802.1,263.7 799.8,263.7 797.9,262.5"/>
<polygon fill="rgb(85,85,85)" points="814.9,261.2 820.8,261.2 822.7,264.8 821.5,274.2 818.8,274.2 818.8,264.8"/>
<polygon fill="rgb(140,140,140)" points="797.9,261.2 800.6,260.0 803.3,261.0 814.2,261.7 816.5,263.3 820.8,265.2 820.8,267.2 818.8,268.7 818.8,273.4 821.1,274.9 812.2,274.9 809.9,273.4 809.9,269.1 806.0,268.9 804.1,264.8 800.2,263.3"/>
<polygon fill="rgb(185,185,185)" points="812.2,269.1 818.4,269.1 818.4,273.4 812.2,273.4"/>
<polygon fill="rgb(210,210,210)" points="806.0,263.3 814.2,263.3 816.9,265.2 816.9,267.6 813.8,268.0 806.4,266.0"/>
<polygon fill="rgb(224,224,224)" points="807.2,264.7 809.5,264.7 809.5,265.8 807.2,265.8"/>
<polygon fill="rgb(224,224,224)" points="812.2,265.8 814.5,265.8 814.5,267.0 812.2,267.0"/>
<polygon fill="rgb(200,200,200)" points="812.2,271.8 816.5,271.8 816.5,273.0 812.2,273.0"/>
<polygon fill="rgb(85,85,85)" points="851.8,271.1 854.9,268.7 858.8,267.2 863.5,266.2 866.2,266.2 867.0,268.7 864.6,271.1 859.6,273.0 851.8,273.0"/>
<polygon fill="rgb(150,150,150)" points="852.2,271.4 855.3,268.9 863.1,266.8 864.2,268.0 862.3,270.7 859.2,272.8 852.2,272.8"/>
<polygon fill="rgb(216,216,216)" points="856.1,268.5 861.9,268.1 861.5,269.3 859.2,270.1 856.1,269.9"/>
<ellipse fill="rgb(85,85,85)" cx="2605.5" cy="553.1" rx="0.5" ry="0.9" transform="rotate(0 2605.5 553.1)"/>
<ellipse fill="rgb(57,57,57)" cx="2273.1" cy="613.4" rx="2.2" ry="0.6" transform="rotate(-35 2273.1 613.4)"/>
<ellipse fill="rgb(85,85,85)" cx="2328.6" cy="610.8" rx="1.7" ry="0.9" transform="rotate(-30 2328.6 610.8)"/>
<ellipse fill="rgb(85,85,85)" cx="2331.3" cy="614.1" rx="1.1" ry="1.9" transform="rotate(-20 2331.3 614.1)"/>
<ellipse fill="rgb(115,115,115)" cx="2332.7" cy="617.2" rx="1.7" ry="2.2" transform="rotate(0 2332.7 617.2)"/>
<ellipse fill="rgb(85,85,85)" cx="2346.5" cy="618.0" rx="1.2" ry="0.8" transform="rotate(0 2346.5 618.0)"/>
<ellipse fill="rgb(123,123,123)" cx="2335.1" cy="623.4" rx="3.0" ry="2.5" transform="rotate(20 2335.1 623.4)"/>
<ellipse fill="rgb(140,140,140)" cx="2336.9" cy="629.2" rx="2.3" ry="2.7" transform="rotate(0 2336.9 629.2)"/>
<ellipse fill="rgb(115,115,115)" cx="2338.7" cy="633.1" rx="1.4" ry="1.7" transform="rotate(0 2338.7 633.1)"/>
<ellipse fill="rgb(115,115,115)" cx="2342.2" cy="628.8" rx="2.3" ry="2.5" transform="rotate(0 2342.2 628.8)"/>
<ellipse fill="rgb(125,125,125)" cx="2352.1" cy="623.5" rx="2.5" ry="3.3" transform="rotate(-10 2352.1 623.5)"/>
<polygon fill="rgb(85,85,85)" points="2349.2,630.4 2353.1,628.8 2357.7,629.6 2360.1,633.5 2360.8,638.1 2357.7,636.6 2354.6,637.4 2352.3,639.7 2351.1,636.6 2349.2,633.5"/>
<ellipse fill="rgb(145,145,145)" cx="2353.9" cy="633.1" rx="2.7" ry="2.3" transform="rotate(0 2353.9 633.1)"/>
<ellipse fill="rgb(210,210,210)" cx="2354.5" cy="634.5" rx="1.2" ry="0.5" transform="rotate(0 2354.5 634.5)"/>
<polygon fill="rgb(85,85,85)" points="2329.0,635.0 2330.6,635.0 2331.3,638.9 2334.4,639.7 2336.0,636.6 2336.8,638.1 2335.2,641.6 2331.3,642.0 2329.8,640.5 2329.0,644.3 2332.1,645.9 2332.1,648.6 2328.6,648.6 2327.8,644.3 2327.5,641.2"/>
<ellipse fill="rgb(140,140,140)" cx="2330.2" cy="646.3" rx="1.6" ry="1.9" transform="rotate(0 2330.2 646.3)"/>
<ellipse fill="rgb(115,115,115)" cx="2333.7" cy="640.5" rx="1.9" ry="1.2" transform="rotate(0 2333.7 640.5)"/>
<polygon fill="rgb(85,85,85)" points="2341.4,639.7 2344.5,637.4 2348.8,637.0 2346.9,640.5 2344.5,644.3 2343.8,647.5 2345.3,650.6 2344.5,653.7 2342.2,654.1 2340.3,649.8 2339.9,646.7 2341.0,643.6"/>
<polygon fill="rgb(140,140,140)" points="2341.8,640.5 2344.5,638.5 2346.5,639.7 2343.8,643.6 2342.6,646.7 2343.8,651.3 2342.2,652.9 2340.8,649.0 2341.0,644.3"/>
<ellipse fill="rgb(210,210,210)" cx="2343.0" cy="643.2" rx="0.8" ry="1.4" transform="rotate(20 2343.0 643.2)"/>
<ellipse fill="rgb(115,115,115)" cx="2335.2" cy="654.4" rx="1.6" ry="2.7" transform="rotate(15 2335.2 654.4)"/>
<ellipse fill="rgb(202,202,202)" cx="2335.6" cy="654.6" rx="0.5" ry="0.5" transform="rotate(0 2335.6 654.6)"/>
<ellipse fill="rgb(85,85,85)" cx="2337.9" cy="657.7" rx="2.5" ry="0.6" transform="rotate(-45 2337.9 657.7)"/>
<ellipse fill="rgb(85,85,85)" cx="2345.9" cy="657.4" rx="0.8" ry="1.4" transform="rotate(0 2345.9 657.4)"/>
<polygon fill="rgb(85,85,85)" points="2301.1,648.2 2303.4,645.5 2306.5,643.6 2305.3,640.5 2307.3,642.0 2310.0,642.4 2309.2,645.1 2306.5,646.7 2303.4,649.0"/>
<polygon fill="rgb(85,85,85)" points="2296.8,668.4 2299.1,663.0 2301.8,658.3 2303.4,652.1 2307.3,649.4 2311.9,650.2 2309.6,653.7 2309.6,658.3 2306.5,661.4 2303.4,664.5 2301.1,667.6 2304.2,669.2 2305.7,670.7 2301.8,672.3 2300.3,675.4 2297.6,673.9 2296.4,670.7"/>
<polygon fill="rgb(140,140,140)" points="2298.0,670.0 2300.3,663.8 2303.0,658.3 2304.5,652.9 2308.0,650.9 2308.4,654.4 2306.5,659.1 2303.4,663.0 2300.7,667.6 2301.1,671.5 2299.1,673.5"/>
<polygon fill="rgb(85,85,85)" points="2289.0,675.4 2293.3,673.9 2295.6,670.7 2297.2,675.4 2293.3,677.7 2295.6,679.3 2301.1,677.7 2306.5,674.6 2308.8,675.0 2308.0,678.5 2310.4,679.7 2307.3,682.4 2303.4,684.7 2299.5,686.3 2296.4,686.7 2292.5,684.3 2289.8,680.8"/>
<polygon fill="rgb(140,140,140)" points="2290.6,680.1 2294.8,679.3 2301.1,678.1 2306.5,675.4 2308.0,677.7 2306.5,681.6 2302.6,684.3 2297.2,685.9 2292.9,683.6"/>
<polygon fill="rgb(210,210,210)" points="2294.1,681.2 2298.0,680.1 2302.6,678.1 2304.5,679.3 2302.6,682.0 2298.7,683.6 2295.6,683.2"/>
<ellipse fill="rgb(230,230,230)" cx="2297.2" cy="681.6" rx="1.9" ry="0.9" transform="rotate(-15 2297.2 681.6)"/>
<ellipse fill="rgb(230,230,230)" cx="2296.8" cy="684.9" rx="0.9" ry="0.8" transform="rotate(0 2296.8 684.9)"/>
<polygon fill="rgb(85,85,85)" points="2312.3,670.0 2315.0,667.3 2319.7,666.9 2324.3,663.8 2327.5,660.3 2329.0,660.7 2327.5,663.8 2332.1,663.0 2334.4,664.5 2332.1,666.9 2328.2,667.6 2326.7,670.7 2325.9,674.6 2322.8,677.0 2319.7,680.1 2317.4,682.8 2315.4,682.4 2316.6,677.7 2317.4,673.9 2315.8,671.5 2313.1,671.5"/>
<polygon fill="rgb(140,140,140)" points="2313.5,670.0 2316.6,668.4 2321.2,668.4 2324.3,667.6 2325.9,669.2 2323.6,671.5 2324.3,674.2 2321.2,677.0 2318.5,678.5 2317.7,675.4 2319.7,672.3 2316.6,671.5"/>
<polygon fill="rgb(175,175,175)" points="2318.5,674.6 2321.2,673.1 2323.2,674.2 2320.5,676.6"/>
<ellipse fill="rgb(115,115,115)" cx="2329.6" cy="675.0" rx="1.4" ry="1.9" transform="rotate(0 2329.6 675.0)"/>
<ellipse fill="rgb(115,115,115)" cx="2335.6" cy="674.8" rx="1.3" ry="2.0" transform="rotate(-10 2335.6 674.8)"/>
<ellipse fill="rgb(85,85,85)" cx="2335.1" cy="663.0" rx="0.9" ry="0.8" transform="rotate(0 2335.1 663.0)"/>
<polygon fill="rgb(85,85,85)" points="2337.9,671.5 2339.9,668.8 2343.8,666.9 2347.6,665.3 2350.4,663.4 2350.7,666.5 2347.6,668.4 2344.5,670.0 2343.8,673.1 2342.6,674.6 2340.3,673.5"/>
<polygon fill="rgb(135,135,135)" points="2339.1,670.7 2342.2,668.4 2343.8,669.2 2343.0,672.3 2340.3,672.3"/>
<ellipse fill="rgb(135,135,135)" cx="2349.6" cy="665.7" rx="0.9" ry="1.7" transform="rotate(20 2349.6 665.7)"/>
<polygon fill="rgb(115,115,115)" points="2352.7,666.1 2355.4,664.5 2358.1,663.8 2358.5,666.9 2357.3,670.4 2355.0,670.0 2353.5,668.4"/>
<ellipse fill="rgb(115,115,115)" cx="2361.2" cy="661.8" rx="1.7" ry="2.2" transform="rotate(-15 2361.2 661.8)"/>
<ellipse fill="rgb(85,85,85)" cx="2364.9" cy="672.9" rx="0.9" ry="0.8" transform="rotate(30 2364.9 672.9)"/>
<ellipse fill="rgb(85,85,85)" cx="2349.0" cy="677.1" rx="0.8" ry="1.2" transform="rotate(0 2349.0 677.1)"/>
<polygon fill="rgb(52,52,52)" points="2385.7,670.7 2388.0,668.4 2394.2,666.9 2400.4,664.5 2405.9,665.7 2413.6,663.0 2417.5,659.9 2422.2,656.8 2429.2,653.7 2436.9,651.3 2443.9,648.2 2448.6,649.0 2450.9,654.4 2449.3,658.3 2444.7,661.4 2440.8,664.5 2436.1,667.6 2429.2,669.2 2421.4,671.5 2413.6,672.3 2408.2,673.9 2402.0,675.4 2394.2,674.6 2388.0,675.0 2386.1,673.5"/>
<polygon fill="rgb(140,140,140)" points="2387.2,671.5 2391.1,668.4 2398.1,666.9 2405.1,666.5 2412.1,665.3 2417.5,661.4 2423.7,657.5 2431.5,654.4 2439.3,652.1 2444.7,651.3 2445.5,655.2 2441.6,659.9 2436.1,663.8 2429.9,666.9 2422.2,670.0 2414.4,671.1 2408.2,672.7 2402.0,673.9 2394.2,673.5 2388.8,673.9"/>
<polygon fill="rgb(185,185,185)" points="2406.6,670.7 2411.3,667.6 2417.5,664.5 2419.8,666.9 2415.2,670.0 2409.8,671.9"/>
<polygon fill="rgb(185,185,185)" points="2436.1,654.4 2442.4,652.1 2444.7,654.4 2440.8,658.3 2436.9,659.9"/>
<polygon fill="rgb(210,210,210)" points="2388.4,671.1 2391.9,669.2 2397.3,668.4 2402.0,666.9 2405.9,667.6 2406.6,670.7 2403.5,673.1 2398.1,673.1 2392.7,672.3 2389.6,673.1"/>
<polygon fill="rgb(210,210,210)" points="2420.6,662.2 2424.5,659.1 2429.9,657.2 2435.4,655.6 2436.9,658.3 2433.8,662.2 2428.4,664.5 2424.5,666.5 2421.4,665.3"/>
<ellipse fill="rgb(230,230,230)" cx="2391.1" cy="671.1" rx="1.9" ry="1.4" transform="rotate(0 2391.1 671.1)"/>
<ellipse fill="rgb(235,235,235)" cx="2402.0" cy="670.4" rx="3.5" ry="2.2" transform="rotate(0 2402.0 670.4)"/>
<ellipse fill="rgb(247,247,247)" cx="2401.2" cy="670.0" rx="2.2" ry="1.4" transform="rotate(0 2401.2 670.0)"/>
<polygon fill="rgb(247,247,247)" points="2423.3,661.4 2427.6,659.5 2431.5,659.9 2429.9,662.6 2426.1,663.8 2423.7,663.4"/>
<ellipse fill="rgb(230,230,230)" cx="2416.0" cy="669.6" rx="1.9" ry="0.8" transform="rotate(-10 2416.0 669.6)"/>
<polygon fill="rgb(85,85,85)" points="2447.0,607.1 2450.9,603.2 2457.9,600.9 2464.1,600.1 2470.0,600.9 2470.0,610.2 2464.1,608.6 2457.9,609.4 2452.5,613.3 2447.8,611.0"/>
<polygon fill="rgb(140,140,140)" points="2448.6,607.1 2453.2,604.0 2460.2,601.6 2462.5,604.0 2457.9,607.1 2451.7,609.4"/>
<ellipse fill="rgb(215,215,215)" cx="2450.5" cy="606.7" rx="1.9" ry="1.6" transform="rotate(0 2450.5 606.7)"/>
<polygon fill="rgb(85,85,85)" points="2444.7,637.4 2447.0,634.3 2450.9,631.9 2454.4,631.9 2454.8,634.6 2451.7,637.4 2447.8,639.7 2445.5,639.3"/>
<polygon fill="rgb(140,140,140)" points="2445.6,637.4 2448.2,634.6 2451.7,633.1 2453.6,633.9 2450.9,636.6 2447.4,638.9"/>
<ellipse fill="rgb(214,214,214)" cx="2448.6" cy="636.2" rx="2.0" ry="1.1" transform="rotate(-35 2448.6 636.2)"/>
<ellipse fill="rgb(125,125,125)" cx="2460.6" cy="632.5" rx="2.7" ry="2.3" transform="rotate(0 2460.6 632.5)"/>
<ellipse fill="rgb(57,57,57)" cx="2440.8" cy="627.5" rx="1.9" ry="1.6" transform="rotate(0 2440.8 627.5)"/>
<ellipse fill="rgb(85,85,85)" cx="2450.0" cy="623.0" rx="1.1" ry="0.9" transform="rotate(0 2450.0 623.0)"/>
<ellipse fill="rgb(85,85,85)" cx="2433.8" cy="634.6" rx="1.9" ry="1.4" transform="rotate(0 2433.8 634.6)"/>
<ellipse fill="rgb(57,57,57)" cx="2436.8" cy="643.6" rx="2.0" ry="1.1" transform="rotate(30 2436.8 643.6)"/>
<ellipse fill="rgb(115,115,115)" cx="2429.9" cy="649.6" rx="3.0" ry="2.2" transform="rotate(0 2429.9 649.6)"/>
<ellipse fill="rgb(204,204,204)" cx="2429.5" cy="650.4" rx="0.6" ry="0.6" transform="rotate(0 2429.5 650.4)"/>
<ellipse fill="rgb(57,57,57)" cx="2419.1" cy="652.1" rx="4.3" ry="0.9" transform="rotate(-20 2419.1 652.1)"/>
<ellipse fill="rgb(85,85,85)" cx="2383.0" cy="678.1" rx="1.9" ry="0.8" transform="rotate(-15 2383.0 678.1)"/>
<ellipse fill="rgb(85,85,85)" cx="2395.8" cy="680.5" rx="1.7" ry="0.6" transform="rotate(-50 2395.8 680.5)"/>
<ellipse fill="rgb(115,115,115)" cx="2405.1" cy="680.5" rx="1.7" ry="0.7" transform="rotate(0 2405.1 680.5)"/>
<ellipse fill="rgb(85,85,85)" cx="2420.0" cy="675.0" rx="1.1" ry="0.6" transform="rotate(-50 2420.0 675.0)"/>
<polygon fill="rgb(57,57,57)" points="2433.4,678.8 2434.9,673.4 2440.4,669.5 2446.6,666.4 2454.3,664.5 2458.2,666.4 2461.3,668.7 2466.0,669.9 2469.9,668.7 2474.5,668.0 2479.2,668.3 2480.7,671.1 2477.6,673.4 2473.0,673.4 2467.5,674.2 2466.0,676.5 2460.6,678.0 2454.3,677.3 2449.7,679.6 2445.8,681.9 2441.9,685.0 2438.8,683.5 2436.5,680.4"/>
<polygon fill="rgb(140,140,140)" points="2434.9,677.3 2437.3,672.6 2443.5,668.7 2449.7,666.4 2455.9,665.6 2459.0,668.7 2463.7,671.1 2466.0,673.4 2463.7,676.5 2459.0,677.3 2454.3,676.5 2449.7,678.0 2445.8,680.4 2441.9,683.5 2438.8,681.9"/>
<polygon fill="rgb(140,140,140)" points="2468.3,670.7 2472.2,668.7 2478.4,668.7 2479.2,670.7 2474.5,671.8 2469.9,672.2"/>
<polygon fill="rgb(185,185,185)" points="2449.7,668.0 2455.1,666.4 2458.2,669.5 2462.1,672.6 2459.0,675.7 2454.3,674.2 2451.2,671.1"/>
<polygon fill="rgb(210,210,210)" points="2435.3,676.1 2438.0,672.6 2442.7,670.7 2448.1,669.9 2452.8,671.8 2457.5,672.6 2458.2,674.2 2454.3,675.3 2449.7,676.1 2444.3,676.9 2438.8,677.3"/>
<polygon fill="rgb(247,247,247)" points="2438.0,674.9 2440.4,671.8 2444.3,671.1 2445.8,673.0 2442.7,675.3 2439.6,676.5"/>
<ellipse fill="rgb(57,57,57)" cx="2436.9" cy="643.5" rx="1.9" ry="1.2" transform="rotate(20 2436.9 643.5)"/>
<polygon fill="rgb(57,57,57)" points="2473.0,657.9 2475.3,655.5 2478.4,656.7 2477.6,659.0 2480.7,661.0 2481.5,663.3 2479.2,662.9 2476.9,660.6 2473.8,660.2"/>
<polygon fill="rgb(85,85,85)" points="2540.1,654.8 2542.1,654.0 2544.4,650.9 2549.1,650.1 2553.7,650.9 2558.4,649.3 2563.0,647.4 2563.8,651.6 2561.5,655.5 2558.4,659.4 2555.3,659.0 2552.2,657.1 2547.5,657.9 2544.4,656.7 2542.9,658.6 2540.5,657.5"/>
<ellipse fill="rgb(140,140,140)" cx="2547.5" cy="654.0" rx="2.3" ry="2.2" transform="rotate(0 2547.5 654.0)"/>
<ellipse fill="rgb(130,130,130)" cx="2556.1" cy="652.8" rx="1.7" ry="2.2" transform="rotate(0 2556.1 652.8)"/>
<ellipse fill="rgb(115,115,115)" cx="2561.9" cy="650.1" rx="1.4" ry="1.9" transform="rotate(0 2561.9 650.1)"/>
<ellipse fill="rgb(90,90,90)" cx="2571.2" cy="651.5" rx="1.9" ry="4.5" transform="rotate(-25 2571.2 651.5)"/>
<polygon fill="rgb(85,85,85)" points="2438.0,694.3 2441.1,694.3 2443.5,695.5 2448.1,695.5 2453.6,694.3 2457.1,695.1 2454.3,697.5 2452.0,699.8 2449.7,702.1 2446.6,705.2 2442.7,706.0 2439.6,703.7 2438.4,699.0"/>
<polygon fill="rgb(140,140,140)" points="2438.8,695.9 2443.5,696.7 2449.7,696.3 2453.6,695.9 2451.2,699.8 2448.1,702.9 2444.3,705.2 2440.4,703.3 2439.2,699.8"/>
<polygon fill="rgb(210,210,210)" points="2439.6,697.8 2443.5,697.5 2447.4,698.6 2447.4,701.3 2445.0,703.7 2441.9,704.4 2440.0,701.3"/>
<polygon fill="rgb(247,247,247)" points="2441.5,702.1 2443.5,699.8 2445.8,700.2 2445.0,702.5 2442.7,704.1"/>
<ellipse fill="rgb(247,247,247)" cx="2440.5" cy="698.4" rx="0.6" ry="0.6" transform="rotate(0 2440.5 698.4)"/>
<polygon fill="rgb(54,54,54)" points="2441.1,709.9 2446.6,708.3 2449.7,704.4 2454.3,702.1 2462.1,699.8 2468.3,699.0 2471.4,696.7 2476.1,694.3 2482.3,693.2 2485.0,696.7 2483.9,699.0 2479.2,702.1 2474.5,701.3 2469.9,700.6 2464.4,702.1 2462.1,706.0 2460.6,709.1 2454.3,710.7 2449.7,713.8 2447.4,714.5 2445.0,711.4"/>
<polygon fill="rgb(140,140,140)" points="2449.7,706.8 2454.3,703.7 2460.6,701.3 2463.7,702.1 2461.3,706.0 2457.5,708.3 2452.8,709.9"/>
<polygon fill="rgb(175,175,175)" points="2456.7,704.4 2460.6,702.9 2461.3,704.8 2458.2,706.8"/>
<polygon fill="rgb(85,85,85)" points="2472.2,697.5 2476.9,695.1 2482.3,694.3 2483.9,697.5 2479.2,700.9 2474.5,700.2"/>
<polygon fill="rgb(85,85,85)" points="2458.2,721.5 2461.3,718.4 2466.8,718.4 2473.0,718.0 2477.6,719.2 2482.3,718.0 2487.7,717.6 2490.8,716.1 2494.7,717.6 2492.4,720.7 2487.7,721.5 2486.2,725.4 2483.1,728.5 2480.0,727.0 2476.1,728.5 2472.2,727.0 2468.3,727.0 2465.2,724.6 2461.3,723.1"/>
<polygon fill="rgb(140,140,140)" points="2459.0,721.1 2462.1,719.2 2467.5,719.2 2473.0,718.8 2477.6,720.7 2482.3,719.2 2485.4,720.0 2484.6,723.9 2482.3,727.3 2479.2,726.2 2476.1,727.3 2472.2,725.8 2468.3,725.8 2466.0,723.5 2462.1,722.3"/>
<polygon fill="rgb(210,210,210)" points="2466.0,723.9 2469.9,723.1 2473.0,723.5 2472.2,725.4 2468.3,725.4"/>
<polygon fill="rgb(210,210,210)" points="2474.5,723.5 2479.2,722.7 2480.7,724.2 2477.6,725.4 2474.9,725.0"/>
<ellipse fill="rgb(210,210,210)" cx="2483.1" cy="726.6" rx="1.1" ry="1.1" transform="rotate(0 2483.1 726.6)"/>
<ellipse fill="rgb(230,230,230)" cx="2476.5" cy="726.2" rx="0.6" ry="0.8" transform="rotate(0 2476.5 726.2)"/>
<ellipse fill="rgb(125,125,125)" cx="2451.9" cy="723.9" rx="1.7" ry="2.8" transform="rotate(-10 2451.9 723.9)"/>
<ellipse fill="rgb(130,130,130)" cx="2498.4" cy="726.0" rx="2.5" ry="1.7" transform="rotate(-15 2498.4 726.0)"/>
<polygon fill="rgb(85,85,85)" points="2528.1,734.3 2532.0,731.2 2536.6,729.3 2542.1,730.1 2544.8,731.6 2542.9,733.2 2538.2,734.3 2533.5,736.3 2529.7,736.7"/>
<polygon fill="rgb(140,140,140)" points="2529.3,734.3 2532.8,732.0 2537.4,730.5 2539.8,731.6 2535.9,733.9 2531.2,735.9"/>
<polygon fill="rgb(170,170,170)" points="2532.0,732.8 2536.6,731.2 2538.2,732.4 2533.5,734.3"/>
<polygon fill="rgb(57,57,57)" points="2591.0,716.9 2594.1,715.7 2597.6,714.9 2598.0,718.4 2596.8,721.5 2594.1,720.4 2591.8,719.2"/>
<polygon fill="rgb(85,85,85)" points="2446.6,539.6 2451.3,537.8 2455.9,539.0 2462.9,537.2 2473.4,535.3 2475.7,536.7 2472.2,540.2 2465.2,542.5 2458.3,544.8 2452.4,547.7 2449.5,544.8 2450.1,542.5"/>
<polygon fill="rgb(140,140,140)" points="2448.9,541.3 2455.9,540.2 2462.9,538.4 2469.9,537.6 2467.6,540.7 2460.6,543.1 2453.6,545.4"/>
<ellipse fill="rgb(214,214,214)" cx="2450.1" cy="540.9" rx="1.4" ry="1.4" transform="rotate(0 2450.1 540.9)"/>
<polygon fill="rgb(85,85,85)" points="2448.2,565.0 2452.8,561.5 2456.3,556.9 2463.3,552.8 2467.9,552.2 2469.7,555.7 2465.6,561.0 2461.0,565.6 2455.1,568.5 2449.9,567.9"/>
<polygon fill="rgb(140,140,140)" points="2449.9,565.0 2454.6,562.1 2458.1,557.5 2463.9,554.6 2467.4,555.1 2463.9,560.4 2459.8,564.5 2454.6,567.0 2451.1,567.0"/>
<ellipse fill="rgb(216,216,216)" cx="2454.0" cy="565.0" rx="2.6" ry="1.4" transform="rotate(-20 2454.0 565.0)"/>
<ellipse fill="rgb(140,140,140)" cx="2451.1" cy="573.0" rx="4.4" ry="2.1" transform="rotate(-20 2451.1 573.0)"/>
<ellipse fill="rgb(210,210,210)" cx="2449.3" cy="574.0" rx="1.4" ry="0.9" transform="rotate(0 2449.3 574.0)"/>
<ellipse fill="rgb(140,140,140)" cx="2443.5" cy="580.4" rx="3.7" ry="2.0" transform="rotate(10 2443.5 580.4)"/>
<ellipse fill="rgb(175,175,175)" cx="2443.5" cy="580.4" rx="1.6" ry="0.9" transform="rotate(0 2443.5 580.4)"/>
<ellipse fill="rgb(85,85,85)" cx="2624.9" cy="583.7" rx="0.6" ry="1.4" transform="rotate(0 2624.9 583.7)"/>
<ellipse fill="rgb(85,85,85)" cx="2605.4" cy="552.8" rx="0.6" ry="1.2" transform="rotate(0 2605.4 552.8)"/>
<ellipse fill="rgb(140,140,140)" cx="2449.3" cy="635.5" rx="5.2" ry="2.3" transform="rotate(-35 2449.3 635.5)"/>
<ellipse fill="rgb(218,218,218)" cx="2447.9" cy="636.4" rx="2.3" ry="1.2" transform="rotate(-35 2447.9 636.4)"/>
<ellipse fill="rgb(125,125,125)" cx="2461.0" cy="632.2" rx="2.9" ry="2.0" transform="rotate(0 2461.0 632.2)"/>
<ellipse fill="rgb(140,140,140)" cx="2449.5" cy="623.0" rx="0.9" ry="0.7" transform="rotate(0 2449.5 623.0)"/>
<ellipse fill="rgb(57,57,57)" cx="2491.2" cy="620.4" rx="2.3" ry="1.0" transform="rotate(20 2491.2 620.4)"/>
<ellipse fill="rgb(85,85,85)" cx="2595.8" cy="637.8" rx="0.6" ry="1.6" transform="rotate(-15 2595.8 637.8)"/>
<ellipse fill="rgb(125,125,125)" cx="2611.4" cy="640.9" rx="1.0" ry="2.6" transform="rotate(-15 2611.4 640.9)"/>
<ellipse fill="rgb(57,57,57)" cx="2672.0" cy="624.4" rx="0.6" ry="2.3" transform="rotate(-10 2672.0 624.4)"/>
<ellipse fill="rgb(85,85,85)" cx="2210.6" cy="581.1" rx="1.2" ry="2.8" transform="rotate(20 2210.6 581.1)"/>
<ellipse fill="rgb(85,85,85)" cx="2169.8" cy="616.0" rx="0.9" ry="2.6" transform="rotate(15 2169.8 616.0)"/>
<ellipse fill="rgb(140,140,140)" cx="2225.0" cy="884.6" rx="2.1" ry="0.7" transform="rotate(25 2225.0 884.6)"/>
<ellipse fill="rgb(85,85,85)" cx="2350.8" cy="892.7" rx="4.2" ry="1.4" transform="rotate(15 2350.8 892.7)"/>
<ellipse fill="rgb(85,85,85)" cx="2335.6" cy="928.1" rx="1.9" ry="0.5" transform="rotate(0 2335.6 928.1)"/>
<ellipse fill="rgb(85,85,85)" cx="2337.0" cy="799.0" rx="2.0" ry="1.0" transform="rotate(0 2337.0 799.0)"/>
<ellipse fill="rgb(85,85,85)" cx="2359.5" cy="806.7" rx="1.4" ry="1.9" transform="rotate(0 2359.5 806.7)"/>
<ellipse fill="rgb(57,57,57)" cx="2345.0" cy="810.8" rx="3.1" ry="1.1" transform="rotate(-30 2345.0 810.8)"/>
<polygon fill="rgb(75,75,75)" points="2291.8,816.4 2294.2,814.1 2297.3,812.9 2299.2,814.8 2298.8,818.7 2296.1,819.9 2293.4,818.7"/>
<polygon fill="rgb(85,85,85)" points="2303.9,823.4 2306.6,819.5 2309.7,815.6 2312.8,812.5 2317.5,810.2 2323.7,809.8 2327.5,810.6 2327.9,812.9 2324.4,814.8 2319.8,816.4 2315.1,817.6 2312.8,819.5 2313.6,823.4 2310.5,826.5 2307.4,825.7 2305.0,824.9"/>
<polygon fill="rgb(140,140,140)" points="2306.6,823.4 2309.7,819.5 2312.0,814.8 2315.9,811.7 2322.1,810.6 2326.0,811.4 2324.4,813.7 2319.0,815.6 2314.3,816.8 2312.0,821.1 2310.5,824.9 2307.7,824.9"/>
<polygon fill="rgb(210,210,210)" points="2314.3,814.1 2316.7,812.1 2321.3,812.1 2322.9,813.3 2320.6,815.2 2316.7,815.6"/>
<polygon fill="rgb(247,247,247)" points="2316.7,813.7 2319.0,812.5 2320.9,813.3 2319.8,814.8 2317.8,815.0"/>
<ellipse fill="rgb(210,210,210)" cx="2308.0" cy="824.5" rx="1.1" ry="0.6" transform="rotate(0 2308.0 824.5)"/>
<polygon fill="rgb(85,85,85)" points="2286.0,835.0 2289.5,831.9 2294.2,830.4 2297.3,828.8 2301.9,831.1 2306.6,831.1 2312.8,830.4 2310.5,833.5 2310.5,836.6 2308.1,839.7 2305.8,841.6 2300.4,841.6 2295.7,840.5 2294.2,837.4 2290.3,838.1 2287.2,836.6"/>
<polygon fill="rgb(140,140,140)" points="2288.0,834.6 2291.1,832.7 2294.9,831.1 2298.0,830.4 2301.1,832.3 2305.8,832.3 2308.9,833.5 2308.1,837.4 2305.0,840.5 2300.4,840.5 2296.5,838.9 2294.9,835.8 2291.1,836.2"/>
<ellipse fill="rgb(214,214,214)" cx="2292.5" cy="834.1" rx="1.6" ry="1.2" transform="rotate(0 2292.5 834.1)"/>
<ellipse fill="rgb(175,175,175)" cx="2305.0" cy="834.3" rx="1.9" ry="1.1" transform="rotate(0 2305.0 834.3)"/>
<ellipse fill="rgb(206,206,206)" cx="2303.6" cy="836.0" rx="1.4" ry="0.7" transform="rotate(30 2303.6 836.0)"/>
<polygon fill="rgb(57,57,57)" points="2315.1,831.9 2317.5,828.0 2321.3,824.9 2324.4,822.2 2328.3,822.2 2330.7,824.9 2333.0,828.4 2329.9,828.8 2326.8,830.4 2322.1,830.8 2319.8,833.5 2317.5,833.5"/>
<polygon fill="rgb(100,100,100)" points="2321.3,826.5 2324.4,824.9 2328.3,825.3 2329.9,827.7 2326.0,828.8 2322.1,829.6"/>
<polygon fill="rgb(57,57,57)" points="2331.0,823.4 2334.5,824.2 2336.9,821.8 2340.0,820.7 2341.1,818.3 2342.3,819.9 2344.2,819.5 2343.1,821.8 2340.7,824.2 2338.4,824.5 2335.7,824.9"/>
<ellipse fill="rgb(85,85,85)" cx="2343.1" cy="827.7" rx="1.9" ry="0.6" transform="rotate(10 2343.1 827.7)"/>
<ellipse fill="rgb(115,115,115)" cx="2340.6" cy="834.3" rx="2.3" ry="1.2" transform="rotate(10 2340.6 834.3)"/>
<polygon fill="rgb(85,85,85)" points="2353.9,819.5 2356.3,816.4 2359.4,814.1 2363.3,812.9 2365.2,814.8 2364.0,818.0 2360.9,820.3 2357.8,822.0 2355.5,821.4"/>
<polygon fill="rgb(150,150,150)" points="2355.5,819.3 2357.4,816.8 2360.5,815.0 2363.6,814.7 2362.5,817.6 2359.8,819.9 2357.0,821.1"/>
<polygon fill="rgb(173,173,173)" points="2357.8,818.0 2360.9,816.0 2362.5,816.8 2359.8,818.7"/>
<polygon fill="rgb(85,85,85)" points="2364.8,827.3 2368.7,826.9 2372.6,827.3 2371.8,828.8 2376.5,828.0 2382.7,828.0 2386.9,828.0 2385.8,830.4 2381.1,832.7 2376.5,835.4 2373.4,837.4 2369.5,838.1 2367.1,836.2 2365.2,834.3 2367.1,831.1 2369.5,829.6 2366.4,828.8"/>
<polygon fill="rgb(140,140,140)" points="2367.5,832.3 2371.0,830.4 2376.5,829.2 2381.9,828.8 2384.2,829.6 2379.6,832.3 2374.9,835.0 2371.0,837.0 2368.3,835.8"/>
<polygon fill="rgb(177,177,177)" points="2368.7,833.5 2372.6,831.5 2376.5,831.1 2374.1,834.3 2370.2,835.8"/>
<ellipse fill="rgb(210,210,210)" cx="2374.8" cy="833.1" rx="1.7" ry="1.1" transform="rotate(-45 2374.8 833.1)"/>
<polygon fill="rgb(125,125,125)" points="2377.2,825.3 2381.1,824.2 2382.7,822.2 2386.6,821.8 2388.9,823.4 2385.8,824.9 2381.9,826.1 2378.8,826.9"/>
<ellipse fill="rgb(204,204,204)" cx="2384.6" cy="824.2" rx="0.6" ry="0.5" transform="rotate(0 2384.6 824.2)"/>
<polygon fill="rgb(140,140,140)" points="2365.6,827.4 2371.8,827.3 2371.0,828.7 2366.8,828.6"/>
<polygon fill="rgb(57,57,57)" points="2412.2,829.6 2415.3,828.0 2419.9,827.3 2424.6,824.9 2430.8,822.6 2437.0,821.1 2444.0,819.1 2449.1,819.1 2447.9,821.4 2441.7,823.8 2436.2,825.7 2430.8,828.0 2424.6,830.4 2419.9,831.5 2416.8,833.1 2414.5,831.1 2412.2,831.1"/>
<polygon fill="rgb(140,140,140)" points="2416.1,830.0 2420.7,828.0 2426.1,825.7 2430.8,824.2 2433.1,824.9 2428.5,827.7 2423.0,829.6 2418.4,831.1"/>
<ellipse fill="rgb(177,177,177)" cx="2424.6" cy="827.7" rx="2.3" ry="0.9" transform="rotate(-25 2424.6 827.7)"/>
<polygon fill="rgb(140,140,140)" points="2403.2,837.4 2406.7,835.8 2411.4,834.3 2414.9,833.9 2413.7,835.8 2409.1,837.4 2404.4,838.1"/>
<polygon fill="rgb(57,57,57)" points="2265.8,859.9 2269.3,859.1 2274.0,858.3 2277.9,856.0 2274.0,853.3 2276.3,852.9 2279.4,855.2 2283.3,853.7 2288.7,851.3 2294.9,850.2 2301.9,849.8 2304.3,849.0 2308.1,850.6 2310.1,853.7 2308.1,854.4 2305.0,853.7 2300.4,856.0 2295.7,856.8 2291.1,858.7 2287.2,861.0 2282.5,863.0 2279.4,865.3 2278.6,867.6 2274.0,868.8 2270.1,866.9 2267.8,863.8"/>
<polygon fill="rgb(132,132,132)" points="2267.4,861.0 2271.6,859.9 2277.1,858.3 2281.7,856.0 2286.4,854.4 2290.3,854.4 2288.7,857.5 2284.1,859.9 2279.4,862.2 2277.1,865.7 2273.2,866.9 2270.1,864.5"/>
<polygon fill="rgb(175,175,175)" points="2281.0,857.5 2284.1,855.6 2286.4,856.8 2283.3,859.1"/>
<polygon fill="rgb(115,115,115)" points="2274.4,853.3 2276.7,853.3 2278.2,855.1 2276.7,854.8"/>
<ellipse fill="rgb(85,85,85)" cx="2612.0" cy="701.7" rx="0.6" ry="2.2" transform="rotate(0 2612.0 701.7)"/>
<ellipse fill="rgb(100,100,100)" cx="2609.1" cy="729.1" rx="0.6" ry="2.7" transform="rotate(10 2609.1 729.1)"/>
<polygon fill="rgb(57,57,57)" points="2543.3,757.1 2546.4,753.6 2551.0,751.6 2554.1,747.4 2558.0,743.5 2561.1,738.8 2565.0,735.3 2565.8,738.0 2568.1,738.8 2566.9,744.3 2564.2,749.7 2561.9,754.3 2558.0,757.5 2554.9,761.3 2551.8,761.7 2548.7,759.8 2545.6,760.6"/>
<polygon fill="rgb(115,115,115)" points="2551.8,754.3 2555.7,749.7 2558.8,747.7 2559.6,751.2 2556.5,755.9 2553.4,757.5"/>
<ellipse fill="rgb(140,140,140)" cx="2561.1" cy="754.0" rx="0.9" ry="1.4" transform="rotate(0 2561.1 754.0)"/>
<ellipse fill="rgb(85,85,85)" cx="2620.1" cy="754.0" rx="0.9" ry="3.9" transform="rotate(20 2620.1 754.0)"/>
<ellipse fill="rgb(85,85,85)" cx="2613.5" cy="759.4" rx="0.6" ry="2.5" transform="rotate(25 2613.5 759.4)"/>
<ellipse fill="rgb(57,57,57)" cx="2606.4" cy="760.9" rx="0.5" ry="2.8" transform="rotate(25 2606.4 760.9)"/>
<polygon fill="rgb(57,57,57)" points="2579.8,782.3 2582.9,778.4 2586.7,775.3 2590.6,772.2 2593.7,768.3 2597.6,766.0 2599.9,765.2 2599.5,769.1 2597.6,773.0 2593.7,776.1 2590.6,779.2 2587.5,783.1 2584.4,785.4 2581.3,785.4"/>
<polygon fill="rgb(100,100,100)" points="2583.6,780.7 2587.5,776.9 2592.2,773.0 2596.1,769.9 2596.8,771.4 2593.0,775.3 2589.1,779.2 2585.2,783.1"/>
<polygon fill="rgb(57,57,57)" points="2568.1,790.1 2571.2,786.2 2574.3,781.5 2575.9,780.0 2575.1,783.9 2577.4,781.5 2579.8,779.2 2582.1,778.4 2579.8,782.3 2576.6,786.2 2573.5,790.8 2571.2,792.4 2568.9,792.8"/>
<polygon fill="rgb(95,95,95)" points="2570.4,789.3 2573.5,784.6 2575.1,785.4 2572.0,790.1"/>
<polygon fill="rgb(85,85,85)" points="2556.5,794.3 2558.0,790.8 2561.9,788.5 2565.8,784.6 2568.5,784.2 2567.3,787.7 2564.2,790.5 2560.3,792.4"/>
<ellipse fill="rgb(95,95,95)" cx="2575.5" cy="794.9" rx="0.9" ry="3.1" transform="rotate(30 2575.5 794.9)"/>
<ellipse fill="rgb(90,90,90)" cx="2619.5" cy="780.0" rx="0.8" ry="2.8" transform="rotate(20 2619.5 780.0)"/>
<ellipse fill="rgb(57,57,57)" cx="2613.0" cy="797.7" rx="0.5" ry="1.4" transform="rotate(20 2613.0 797.7)"/>
<polygon fill="rgb(57,57,57)" points="2532.0,786.2 2534.7,782.3 2538.6,778.4 2541.7,775.3 2543.6,774.1 2544.8,776.5 2547.1,777.6 2546.4,781.5 2542.5,784.6 2538.6,786.2 2534.7,787.7 2532.4,787.7"/>
<polygon fill="rgb(135,135,135)" points="2536.3,783.9 2540.2,780.0 2543.3,778.4 2544.8,780.0 2542.5,783.1 2538.6,785.0"/>
<polygon fill="rgb(57,57,57)" points="2524.2,800.0 2526.2,797.0 2530.8,793.2 2535.5,790.1 2539.4,788.5 2541.7,786.6 2540.9,790.1 2537.8,793.2 2535.5,796.3 2531.6,800.0 2528.5,802.5 2524.6,802.5"/>
<polygon fill="rgb(95,95,95)" points="2527.0,798.6 2531.6,794.3 2536.3,791.6 2534.7,794.7 2530.1,799.4"/>
<polygon fill="rgb(57,57,57)" points="2506.0,783.5 2508.3,780.7 2510.7,777.6 2512.6,774.9 2516.1,774.1 2514.9,777.6 2513.0,780.7 2509.9,782.7 2506.8,783.9"/>
<ellipse fill="rgb(100,100,100)" cx="2513.0" cy="777.3" rx="1.2" ry="1.6" transform="rotate(30 2513.0 777.3)"/>
<ellipse fill="rgb(57,57,57)" cx="2521.9" cy="777.4" rx="0.5" ry="3.0" transform="rotate(35 2521.9 777.4)"/>
<polygon fill="rgb(57,57,57)" points="2495.1,797.8 2499.0,793.9 2503.7,790.1 2508.3,785.4 2513.0,783.5 2514.5,784.6 2518.8,782.3 2517.6,784.6 2513.8,787.7 2511.4,790.1 2506.8,793.2 2502.9,795.5 2506.0,795.1 2503.7,797.8 2499.8,800.2 2496.7,801.7 2495.5,800.2"/>
<polygon fill="rgb(135,135,135)" points="2497.5,797.0 2502.1,792.4 2506.8,787.7 2510.7,784.6 2512.2,786.2 2508.3,790.1 2503.7,793.9 2499.8,796.7"/>
<ellipse fill="rgb(57,57,57)" cx="2485.4" cy="796.5" rx="1.9" ry="0.4" transform="rotate(-40 2485.4 796.5)"/>
<ellipse fill="rgb(57,57,57)" cx="2493.0" cy="795.9" rx="2.5" ry="0.4" transform="rotate(-42 2493.0 795.9)"/>
<polygon fill="rgb(210,210,210)" points="2429.6,743.9 2432.4,740.2 2435.2,737.4 2437.5,736.0 2438.5,737.8 2436.1,740.2 2433.8,742.5 2431.9,744.8"/>
<polygon fill="rgb(210,210,210)" points="2411.5,758.3 2413.8,756.5 2416.6,756.0 2418.9,757.4 2418.9,758.8 2416.6,759.2 2416.1,761.6 2414.2,761.6 2413.3,759.7"/>
<polygon fill="rgb(206,206,206)" points="2392.8,765.3 2396.1,763.0 2398.9,762.5 2401.7,762.0 2402.1,763.4 2399.8,764.8 2397.0,766.2 2394.2,766.2"/>
<polygon fill="rgb(226,226,226)" points="2421.2,747.6 2425.0,745.3 2428.7,746.7 2432.4,747.1 2436.1,745.7 2438.9,744.8 2438.5,747.1 2435.2,749.0 2431.5,750.9 2427.8,751.8 2424.0,751.8 2421.7,750.4"/>
<ellipse fill="rgb(230,230,230)" cx="2423.1" cy="742.2" rx="1.0" ry="1.3" transform="rotate(0 2423.1 742.2)"/>
<polygon fill="rgb(247,247,247)" points="2426.4,749.5 2429.2,748.3 2432.4,748.1 2435.2,747.1 2434.3,749.0 2431.5,750.4 2428.7,751.3 2426.8,750.9"/>
<polygon fill="rgb(54,54,54)" points="2497.6,864.8 2501.5,862.0 2505.4,859.7 2508.9,859.2 2507.0,862.0 2503.1,864.4 2499.2,865.1"/>
<polygon fill="rgb(57,57,57)" points="2486.8,873.3 2489.1,869.4 2493.0,866.7 2496.5,865.9 2495.3,869.0 2497.6,870.6 2501.5,869.4 2504.6,868.2 2504.2,870.6 2500.7,872.5 2496.1,873.7 2493.0,875.6 2489.9,876.8 2487.5,876.0"/>
<polygon fill="rgb(57,57,57)" points="2470.5,892.7 2474.3,890.4 2476.7,887.3 2477.5,882.6 2479.0,878.7 2483.7,876.4 2487.2,879.1 2486.0,882.6 2484.4,886.5 2482.1,889.6 2484.4,892.7 2481.3,895.0 2475.9,895.8 2472.0,895.0"/>
<ellipse fill="rgb(84,84,84)" cx="2477.8" cy="892.3" rx="3.1" ry="1.6" transform="rotate(-20 2477.8 892.3)"/>
<polygon fill="rgb(54,54,54)" points="2517.8,867.1 2520.9,863.6 2524.8,860.5 2528.7,858.9 2529.1,861.6 2526.4,864.8 2522.5,867.9 2519.0,869.8"/>
<polygon fill="rgb(57,57,57)" points="2498.0,893.5 2502.3,890.4 2506.2,886.5 2506.2,881.8 2509.3,878.0 2514.7,874.8 2520.2,871.7 2524.8,868.6 2528.7,866.7 2530.2,870.2 2531.8,874.1 2536.5,877.2 2538.0,881.1 2534.9,884.2 2532.6,888.0 2527.9,890.4 2522.5,892.7 2517.0,894.6 2511.6,894.3 2507.7,892.3 2503.9,893.5 2500.0,895.0"/>
<ellipse fill="rgb(84,84,84)" cx="2515.5" cy="889.6" rx="4.7" ry="2.3" transform="rotate(-15 2515.5 889.6)"/>
<polygon fill="rgb(0,0,0)" points="2517.0,884.2 2518.6,881.1 2521.7,879.9 2524.8,882.6 2527.1,886.5 2523.3,886.5 2519.4,886.1"/>
<polygon fill="rgb(57,57,57)" points="2543.8,872.5 2545.8,868.6 2548.9,864.8 2551.6,862.0 2553.2,866.3 2551.2,869.0 2548.1,871.0 2545.0,873.1"/>
<polygon fill="rgb(57,57,57)" points="2549.3,885.7 2552.0,881.1 2555.9,877.2 2559.8,878.7 2563.6,875.6 2568.3,872.5 2573.0,872.5 2577.6,872.9 2581.9,872.1 2578.4,875.6 2573.7,878.7 2569.1,878.0 2564.4,881.1 2565.2,886.5 2566.0,890.4 2562.1,894.3 2559.0,893.5 2557.4,897.4 2554.3,901.2 2550.4,904.3 2545.8,907.5 2541.9,909.8 2540.0,907.8 2543.4,904.7 2548.1,901.2 2552.8,898.1 2556.6,894.3 2558.2,891.1 2554.3,890.4 2551.2,888.8"/>
<ellipse fill="rgb(87,87,87)" cx="2557.4" cy="884.2" rx="4.3" ry="3.1" transform="rotate(0 2557.4 884.2)"/>
<polygon fill="rgb(61,61,61)" points="2519.0,902.8 2522.5,899.7 2527.1,897.4 2530.2,896.2 2532.6,898.9 2534.1,902.8 2536.1,905.5 2532.6,908.2 2528.7,910.2 2524.8,908.2 2521.7,905.5"/>
<ellipse fill="rgb(87,87,87)" cx="2527.5" cy="903.2" rx="3.9" ry="3.1" transform="rotate(0 2527.5 903.2)"/>
<ellipse fill="rgb(69,69,69)" cx="2504.9" cy="902.0" rx="2.3" ry="5.3" transform="rotate(25 2504.9 902.0)"/>
<ellipse fill="rgb(59,59,59)" cx="2508.5" cy="908.2" rx="4.8" ry="0.7" transform="rotate(-25 2508.5 908.2)"/>
<polygon fill="rgb(69,69,69)" points="2510.1,915.2 2514.7,912.5 2520.2,910.6 2523.3,910.2 2521.7,912.9 2518.6,915.2 2515.5,916.8"/>
<ellipse fill="rgb(69,69,69)" cx="2528.7" cy="914.4" rx="3.7" ry="0.8" transform="rotate(-30 2528.7 914.4)"/>
<ellipse fill="rgb(59,59,59)" cx="2494.9" cy="918.7" rx="3.3" ry="0.7" transform="rotate(-25 2494.9 918.7)"/>
<ellipse fill="rgb(69,69,69)" cx="2499.0" cy="924.8" rx="4.3" ry="1.6" transform="rotate(-40 2499.0 924.8)"/>
<polygon fill="rgb(61,61,61)" points="2473.6,918.3 2476.7,915.2 2481.3,913.3 2485.2,912.5 2483.7,916.0 2479.8,919.9 2475.9,923.4 2472.8,924.5 2473.6,921.4"/>
<polygon fill="rgb(64,64,64)" points="2450.3,921.4 2453.4,919.5 2458.8,918.3 2465.0,918.3 2468.9,917.5 2466.6,920.7 2469.7,923.0 2467.4,926.1 2463.5,926.9 2458.8,924.9 2454.2,924.9 2452.6,923.4"/>
<ellipse fill="rgb(91,91,91)" cx="2459.6" cy="921.6" rx="4.7" ry="1.9" transform="rotate(-5 2459.6 921.6)"/>
<ellipse fill="rgb(69,69,69)" cx="2447.2" cy="915.6" rx="4.0" ry="0.9" transform="rotate(-30 2447.2 915.6)"/>
<polygon fill="rgb(57,57,57)" points="2422.3,937.3 2426.2,936.2 2432.4,936.0 2433.2,940.1 2437.9,940.5 2437.5,942.4 2434.0,943.2 2436.7,945.5 2432.4,946.9 2430.1,945.1 2431.6,942.4 2427.8,940.8 2424.7,939.3"/>
<ellipse fill="rgb(59,59,59)" cx="2541.5" cy="893.5" rx="2.2" ry="0.6" transform="rotate(-30 2541.5 893.5)"/>
<polygon fill="rgb(77,77,77)" points="2478.0,812.6 2482.6,809.9 2487.3,806.0 2492.7,805.0 2492.3,806.8 2488.0,809.9 2483.4,812.2"/>
<ellipse fill="rgb(57,57,57)" cx="2469.4" cy="808.9" rx="1.6" ry="0.5" transform="rotate(-25 2469.4 808.9)"/>
<ellipse fill="rgb(57,57,57)" cx="2485.3" cy="796.5" rx="1.9" ry="0.4" transform="rotate(-45 2485.3 796.5)"/>
<ellipse fill="rgb(57,57,57)" cx="2492.9" cy="796.1" rx="2.2" ry="0.4" transform="rotate(-45 2492.9 796.1)"/>
<polygon fill="rgb(85,85,85)" points="2568.0,811.8 2570.0,808.0 2572.7,804.1 2577.3,802.5 2578.9,803.3 2577.3,806.8 2574.2,809.5 2571.1,810.7"/>
<polygon fill="rgb(145,145,145)" points="2570.0,809.9 2572.3,806.4 2575.4,804.5 2576.9,804.8 2575.0,807.6 2572.3,809.5"/>
<ellipse fill="rgb(77,77,77)" cx="2537.6" cy="811.4" rx="3.9" ry="0.4" transform="rotate(-55 2537.6 811.4)"/>
<polygon fill="rgb(85,85,85)" points="2526.9,833.0 2530.0,829.7 2533.1,825.8 2536.2,824.3 2538.9,824.1 2537.0,827.4 2533.9,829.7 2530.7,831.2"/>
<polygon fill="rgb(127,127,127)" points="2530.7,829.7 2533.5,826.6 2535.8,825.4 2534.6,828.1 2532.3,830.1"/>
<ellipse fill="rgb(85,85,85)" cx="2619.5" cy="830.6" rx="3.3" ry="0.4" transform="rotate(-45 2619.5 830.6)"/>
<ellipse fill="rgb(95,95,95)" cx="2620.2" cy="829.8" rx="0.8" ry="0.6" transform="rotate(0 2620.2 829.8)"/>
<ellipse fill="rgb(57,57,57)" cx="2603.0" cy="847.9" rx="1.1" ry="0.8" transform="rotate(-30 2603.0 847.9)"/>
<ellipse fill="rgb(57,57,57)" cx="2613.0" cy="797.5" rx="1.6" ry="0.4" transform="rotate(-55 2613.0 797.5)"/>
<ellipse fill="rgb(140,140,140)" cx="2282.4" cy="689.6" rx="0.7" ry="0.5" transform="rotate(0 2282.4 689.6)"/>
<ellipse fill="rgb(85,85,85)" cx="2527.1" cy="365.3" rx="1.4" ry="0.9" transform="rotate(0 2527.1 365.3)"/>
</g>
</g>
</svg>
</body></html>
